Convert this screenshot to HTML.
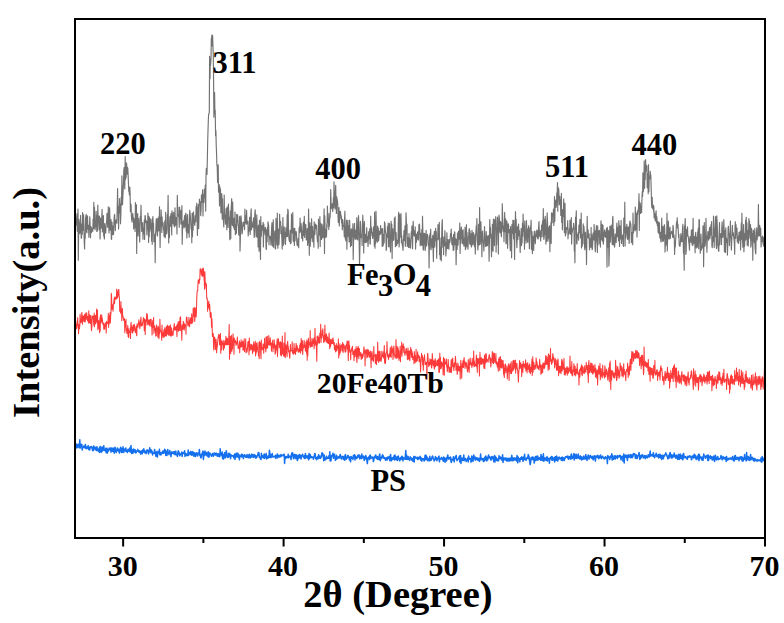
<!DOCTYPE html>
<html><head><meta charset="utf-8"><style>
html,body{margin:0;padding:0;background:#fff;width:784px;height:623px;overflow:hidden}
svg{display:block}
text{font-family:"Liberation Serif",serif;font-weight:bold;fill:#000}
</style></head><body>
<svg width="784" height="623" viewBox="0 0 784 623">
<rect width="784" height="623" fill="#fff"/>
<polyline fill="none" stroke="#727272" stroke-width="1.15" stroke-linejoin="round" points="75.0,213.0 75.3,236.1 75.7,217.9 76.0,223.2 76.3,224.8 76.6,219.2 77.0,213.8 77.3,231.3 77.6,228.8 78.0,209.0 78.3,260.2 78.6,234.2 79.0,219.4 79.3,233.8 79.6,222.0 79.9,225.6 80.3,232.9 80.6,215.4 80.9,231.2 81.3,238.3 81.6,237.7 81.9,223.8 82.3,234.1 82.6,212.5 82.9,225.1 83.2,230.3 83.6,214.9 83.9,225.8 84.2,241.3 84.6,249.0 84.9,233.2 85.2,238.6 85.6,218.3 85.9,216.1 86.2,214.3 86.5,231.1 86.9,232.9 87.2,220.8 87.5,215.9 87.9,228.6 88.2,229.1 88.5,225.2 88.9,237.3 89.2,225.5 89.5,225.7 89.8,216.7 90.2,227.4 90.5,237.8 90.8,226.7 91.2,226.7 91.5,232.4 91.8,228.5 92.2,230.6 92.5,230.6 92.8,231.3 93.1,219.1 93.5,228.5 93.8,202.4 94.1,228.1 94.5,207.3 94.8,225.1 95.1,229.8 95.5,222.1 95.8,226.4 96.1,211.4 96.4,218.1 96.8,231.4 97.1,215.5 97.4,231.0 97.8,205.1 98.1,217.5 98.4,215.9 98.8,225.3 99.1,229.8 99.4,216.0 99.7,223.6 100.1,239.0 100.4,222.3 100.7,218.0 101.1,228.3 101.4,223.0 101.7,218.9 102.1,209.4 102.4,231.9 102.7,219.9 103.0,224.8 103.4,215.6 103.7,235.9 104.0,235.6 104.4,239.0 104.7,223.6 105.0,228.6 105.4,232.1 105.7,233.2 106.0,227.1 106.3,223.8 106.7,221.2 107.0,213.3 107.3,215.9 107.7,227.2 108.0,221.9 108.3,206.8 108.7,222.5 109.0,233.0 109.3,221.4 109.6,207.7 110.0,222.5 110.3,230.2 110.6,225.1 111.0,219.5 111.3,239.0 111.6,239.3 112.0,222.0 112.3,234.6 112.6,225.9 112.9,229.1 113.3,234.6 113.6,233.9 113.9,222.5 114.3,215.9 114.6,214.3 114.9,220.7 115.3,230.6 115.6,222.9 115.9,220.4 116.2,221.7 116.6,219.4 116.9,223.3 117.2,208.4 117.6,188.5 117.9,213.0 118.2,206.1 118.6,229.0 118.9,212.8 119.2,210.9 119.5,198.6 119.9,213.0 120.2,203.7 120.5,223.8 120.9,212.9 121.2,197.0 121.5,205.1 121.9,175.8 122.2,186.8 122.5,204.7 122.8,197.9 123.2,189.7 123.5,184.8 123.8,169.8 124.2,167.3 124.5,178.1 124.8,188.9 125.2,156.6 125.5,179.5 125.8,174.7 126.1,177.7 126.5,162.8 126.8,167.1 127.1,174.1 127.5,167.3 127.8,168.4 128.1,174.4 128.5,184.5 128.8,191.5 129.1,191.1 129.4,194.9 129.8,187.0 130.1,193.3 130.4,211.6 130.8,203.7 131.1,205.5 131.4,216.1 131.8,220.4 132.1,222.2 132.4,216.1 132.7,213.4 133.1,217.5 133.4,217.5 133.7,228.9 134.1,220.2 134.4,223.9 134.7,218.7 135.1,231.5 135.4,202.6 135.7,224.0 136.0,227.7 136.4,204.7 136.7,253.4 137.0,220.1 137.4,221.2 137.7,213.6 138.0,236.0 138.4,226.7 138.7,218.6 139.0,225.8 139.3,230.0 139.7,242.1 140.0,226.3 140.3,216.3 140.7,220.0 141.0,205.2 141.3,218.8 141.7,231.5 142.0,229.3 142.3,224.5 142.6,222.6 143.0,239.3 143.3,228.2 143.6,233.7 144.0,229.3 144.3,220.2 144.6,239.5 145.0,215.5 145.3,215.9 145.6,222.6 145.9,220.1 146.3,221.6 146.6,221.3 146.9,235.0 147.3,227.0 147.6,229.6 147.9,213.0 148.3,219.4 148.6,242.5 148.9,216.3 149.2,236.8 149.6,217.9 149.9,231.1 150.2,219.5 150.6,228.4 150.9,219.0 151.2,224.6 151.6,241.1 151.9,223.5 152.2,244.3 152.5,220.0 152.9,216.6 153.2,227.4 153.5,223.2 153.9,241.8 154.2,234.1 154.5,236.8 154.9,235.9 155.2,262.7 155.5,233.4 155.8,231.1 156.2,219.4 156.5,218.7 156.8,228.0 157.2,235.0 157.5,236.0 157.8,218.3 158.2,230.9 158.5,228.0 158.8,216.7 159.1,230.7 159.5,206.7 159.8,230.0 160.1,247.4 160.5,217.4 160.8,226.3 161.1,209.8 161.5,219.6 161.8,232.5 162.1,217.0 162.4,225.7 162.8,222.9 163.1,222.7 163.4,228.7 163.8,230.0 164.1,236.4 164.4,233.0 164.8,220.9 165.1,237.9 165.4,236.5 165.7,212.3 166.1,231.4 166.4,232.8 166.7,234.0 167.1,230.3 167.4,214.4 167.7,221.6 168.1,195.3 168.4,224.1 168.7,242.9 169.0,231.3 169.4,237.6 169.7,220.9 170.0,216.6 170.4,216.1 170.7,226.3 171.0,213.4 171.4,219.6 171.7,234.9 172.0,210.9 172.3,213.6 172.7,220.4 173.0,223.8 173.3,223.4 173.7,212.4 174.0,225.9 174.3,222.9 174.7,226.9 175.0,207.8 175.3,225.5 175.6,225.1 176.0,217.3 176.3,220.9 176.6,217.7 177.0,234.0 177.3,195.3 177.6,209.5 178.0,207.1 178.3,216.0 178.6,215.6 178.9,217.7 179.3,227.3 179.6,207.0 179.9,213.7 180.3,219.0 180.6,210.6 180.9,224.1 181.3,223.7 181.6,214.8 181.9,205.6 182.2,244.3 182.6,224.9 182.9,224.5 183.2,221.9 183.6,220.8 183.9,228.0 184.2,220.8 184.6,215.5 184.9,227.0 185.2,221.5 185.5,214.3 185.9,213.2 186.2,231.0 186.5,226.4 186.9,238.0 187.2,216.5 187.5,214.6 187.9,224.5 188.2,232.9 188.5,226.2 188.8,224.7 189.2,237.2 189.5,214.6 189.8,210.2 190.2,214.5 190.5,218.1 190.8,224.0 191.2,229.5 191.5,224.2 191.8,242.8 192.1,213.4 192.5,236.7 192.8,213.2 193.1,230.2 193.5,211.9 193.8,222.7 194.1,220.0 194.5,223.8 194.8,225.5 195.1,215.7 195.4,218.0 195.8,221.7 196.1,206.7 196.4,211.2 196.8,203.2 197.1,216.8 197.4,235.4 197.8,222.2 198.1,207.9 198.4,204.5 198.7,228.5 199.1,209.5 199.4,199.1 199.7,203.5 200.1,202.5 200.4,201.9 200.7,215.6 201.1,209.5 201.4,195.0 201.7,202.1 202.0,195.7 202.4,193.7 202.7,189.7 203.0,216.0 203.4,194.7 203.7,202.1 204.0,202.4 204.4,189.2 204.7,197.5 205.0,191.3 205.3,185.1 205.7,211.1 206.0,177.6 206.3,168.4 206.7,170.7 207.0,174.5 207.3,161.3 207.7,141.5 208.0,130.4 208.3,121.3 208.6,114.4 209.0,113.6 209.3,112.4 209.6,56.3 210.0,78.7 210.3,59.2 210.6,65.2 211.0,59.3 211.3,38.7 211.6,37.8 211.9,35.0 212.3,45.9 212.6,35.4 212.9,43.9 213.3,56.2 213.6,82.2 213.9,117.2 214.3,92.9 214.6,92.5 214.9,113.9 215.2,110.1 215.6,135.8 215.9,130.5 216.2,144.6 216.6,154.5 216.9,165.4 217.2,165.9 217.6,182.6 217.9,177.4 218.2,164.8 218.5,192.1 218.9,184.9 219.2,184.6 219.5,206.0 219.9,186.9 220.2,198.2 220.5,189.1 220.9,212.9 221.2,199.7 221.5,207.7 221.8,193.6 222.2,219.1 222.5,198.7 222.8,216.7 223.2,219.4 223.5,221.3 223.8,227.0 224.2,195.1 224.5,216.3 224.8,214.7 225.1,217.7 225.5,224.1 225.8,216.1 226.1,208.6 226.5,215.2 226.8,229.7 227.1,206.8 227.5,218.0 227.8,209.2 228.1,227.5 228.4,204.1 228.8,215.6 229.1,217.8 229.4,220.1 229.8,239.7 230.1,233.0 230.4,211.0 230.8,238.6 231.1,210.0 231.4,204.4 231.7,198.7 232.1,223.8 232.4,225.6 232.7,202.1 233.1,225.1 233.4,219.2 233.7,227.7 234.1,218.4 234.4,229.6 234.7,226.8 235.0,212.0 235.4,234.7 235.7,224.2 236.0,228.7 236.4,233.4 236.7,214.3 237.0,222.0 237.4,215.8 237.7,214.8 238.0,225.3 238.3,226.0 238.7,234.6 239.0,235.2 239.3,223.2 239.7,216.3 240.0,251.1 240.3,242.1 240.7,222.2 241.0,215.8 241.3,220.3 241.6,226.5 242.0,233.9 242.3,232.6 242.6,228.1 243.0,222.4 243.3,226.0 243.6,222.0 244.0,225.9 244.3,224.1 244.6,229.6 244.9,209.0 245.3,222.3 245.6,222.9 245.9,215.8 246.3,224.2 246.6,210.4 246.9,220.2 247.3,223.6 247.6,224.0 247.9,221.4 248.2,236.0 248.6,228.3 248.9,231.5 249.2,228.9 249.6,217.2 249.9,219.6 250.2,234.5 250.6,224.4 250.9,212.3 251.2,208.8 251.5,229.7 251.9,221.6 252.2,227.5 252.5,223.5 252.9,224.9 253.2,227.0 253.5,217.9 253.9,228.6 254.2,237.4 254.5,235.0 254.8,214.2 255.2,209.7 255.5,218.0 255.8,227.4 256.2,237.0 256.5,232.6 256.8,214.9 257.2,230.5 257.5,237.1 257.8,226.5 258.1,246.9 258.5,225.1 258.8,240.9 259.1,251.2 259.5,220.2 259.8,228.6 260.1,236.5 260.5,259.4 260.8,216.6 261.1,237.0 261.4,234.8 261.8,226.4 262.1,225.5 262.4,228.4 262.8,230.5 263.1,222.3 263.4,246.9 263.8,224.0 264.1,229.9 264.4,228.0 264.7,230.3 265.1,234.7 265.4,227.4 265.7,232.0 266.1,248.8 266.4,249.5 266.7,229.8 267.1,241.8 267.4,227.4 267.7,236.0 268.0,221.8 268.4,224.2 268.7,226.6 269.0,244.7 269.4,236.0 269.7,238.8 270.0,236.3 270.4,237.2 270.7,240.2 271.0,245.2 271.3,235.4 271.7,226.2 272.0,222.5 272.3,244.5 272.7,246.2 273.0,238.9 273.3,219.9 273.7,247.6 274.0,236.8 274.3,233.4 274.6,234.2 275.0,230.8 275.3,249.1 275.6,248.5 276.0,218.4 276.3,232.4 276.6,236.6 277.0,244.9 277.3,213.1 277.6,242.0 277.9,248.3 278.3,229.0 278.6,233.5 278.9,244.6 279.3,237.1 279.6,214.2 279.9,223.7 280.3,224.9 280.6,221.5 280.9,233.7 281.2,226.0 281.6,234.0 281.9,239.8 282.2,249.1 282.6,235.5 282.9,217.6 283.2,245.6 283.6,232.6 283.9,243.6 284.2,226.9 284.5,237.9 284.9,232.4 285.2,233.3 285.5,244.5 285.9,227.9 286.2,234.9 286.5,236.6 286.9,230.1 287.2,214.5 287.5,236.4 287.8,209.0 288.2,211.3 288.5,229.4 288.8,237.1 289.2,240.8 289.5,240.5 289.8,241.9 290.2,230.2 290.5,243.7 290.8,231.0 291.1,242.9 291.5,214.0 291.8,225.0 292.1,224.6 292.5,233.1 292.8,212.5 293.1,240.1 293.5,241.6 293.8,239.8 294.1,228.6 294.4,245.5 294.8,228.2 295.1,240.7 295.4,232.4 295.8,232.7 296.1,231.5 296.4,232.6 296.8,242.3 297.1,245.1 297.4,245.0 297.7,245.8 298.1,238.4 298.4,239.1 298.7,247.7 299.1,228.7 299.4,227.0 299.7,232.8 300.1,218.0 300.4,230.3 300.7,231.8 301.0,223.4 301.4,227.3 301.7,238.2 302.0,230.2 302.4,232.8 302.7,241.0 303.0,226.8 303.4,222.2 303.7,231.6 304.0,235.6 304.3,216.3 304.7,237.5 305.0,229.2 305.3,225.7 305.7,224.4 306.0,230.2 306.3,240.0 306.7,236.3 307.0,238.7 307.3,228.5 307.6,245.4 308.0,242.6 308.3,231.4 308.6,209.0 309.0,232.1 309.3,255.2 309.6,231.0 310.0,222.7 310.3,246.2 310.6,226.2 310.9,235.7 311.3,238.0 311.6,218.7 311.9,232.5 312.3,241.6 312.6,226.5 312.9,237.0 313.3,231.1 313.6,240.1 313.9,247.2 314.2,221.8 314.6,228.7 314.9,234.6 315.2,225.7 315.6,224.0 315.9,228.1 316.2,228.7 316.6,225.4 316.9,233.8 317.2,237.9 317.5,241.8 317.9,236.7 318.2,248.3 318.5,219.0 318.9,229.7 319.2,232.3 319.5,235.1 319.9,216.6 320.2,246.6 320.5,222.7 320.8,232.5 321.2,236.5 321.5,239.4 321.8,224.0 322.2,225.1 322.5,232.7 322.8,237.9 323.2,237.0 323.5,228.4 323.8,222.7 324.1,208.8 324.5,253.5 324.8,215.8 325.1,233.2 325.5,229.1 325.8,237.4 326.1,233.9 326.5,236.6 326.8,223.5 327.1,227.0 327.4,206.0 327.8,222.3 328.1,213.2 328.4,218.7 328.8,229.6 329.1,218.8 329.4,226.1 329.8,213.7 330.1,217.6 330.4,209.3 330.7,189.6 331.1,204.0 331.4,206.4 331.7,208.7 332.1,206.0 332.4,203.5 332.7,211.5 333.1,207.5 333.4,197.6 333.7,207.5 334.0,181.8 334.4,196.1 334.7,196.8 335.0,209.0 335.4,193.2 335.7,185.3 336.0,199.9 336.4,213.5 336.7,196.7 337.0,199.3 337.3,200.0 337.7,203.4 338.0,215.5 338.3,222.5 338.7,211.1 339.0,207.6 339.3,225.9 339.7,212.3 340.0,213.4 340.3,211.2 340.6,212.9 341.0,219.0 341.3,215.7 341.6,223.0 342.0,221.3 342.3,229.8 342.6,219.3 343.0,221.8 343.3,226.5 343.6,225.8 343.9,226.9 344.3,236.8 344.6,218.1 344.9,211.2 345.3,239.1 345.6,226.9 345.9,241.0 346.3,229.0 346.6,220.1 346.9,249.3 347.2,234.2 347.6,227.1 347.9,220.4 348.2,236.3 348.6,225.9 348.9,235.2 349.2,242.0 349.6,220.2 349.9,229.2 350.2,236.6 350.5,246.8 350.9,240.7 351.2,228.8 351.5,245.4 351.9,229.8 352.2,231.6 352.5,236.3 352.9,223.7 353.2,259.6 353.5,243.5 353.8,235.2 354.2,228.5 354.5,223.4 354.8,236.6 355.2,239.5 355.5,230.1 355.8,231.9 356.2,238.4 356.5,233.1 356.8,217.7 357.1,239.4 357.5,235.8 357.8,240.0 358.1,222.8 358.5,215.5 358.8,223.0 359.1,236.4 359.5,264.2 359.8,254.0 360.1,238.3 360.4,221.3 360.8,230.9 361.1,237.7 361.4,237.6 361.8,234.7 362.1,245.4 362.4,226.1 362.8,215.2 363.1,226.3 363.4,223.8 363.7,253.0 364.1,232.2 364.4,221.5 364.7,239.1 365.1,242.5 365.4,234.3 365.7,236.6 366.1,242.6 366.4,238.2 366.7,227.7 367.0,238.8 367.4,241.7 367.7,236.7 368.0,246.5 368.4,238.7 368.7,231.7 369.0,232.4 369.4,239.0 369.7,228.9 370.0,243.6 370.3,244.1 370.7,216.2 371.0,233.0 371.3,227.1 371.7,228.1 372.0,235.7 372.3,232.1 372.7,238.4 373.0,236.3 373.3,236.7 373.6,226.8 374.0,230.5 374.3,246.1 374.6,212.2 375.0,248.3 375.3,228.7 375.6,243.6 376.0,211.2 376.3,227.4 376.6,240.8 376.9,234.8 377.3,242.2 377.6,226.0 377.9,228.7 378.3,227.9 378.6,241.0 378.9,237.5 379.3,232.5 379.6,231.3 379.9,231.1 380.2,234.4 380.6,225.5 380.9,233.2 381.2,231.6 381.6,229.1 381.9,228.9 382.2,246.5 382.6,228.5 382.9,237.4 383.2,245.7 383.5,240.3 383.9,234.2 384.2,242.8 384.5,221.8 384.9,223.5 385.2,228.4 385.5,232.3 385.9,233.5 386.2,250.5 386.5,248.9 386.8,234.1 387.2,236.7 387.5,226.7 387.8,237.3 388.2,223.1 388.5,246.7 388.8,230.3 389.2,239.6 389.5,223.6 389.8,246.9 390.1,240.2 390.5,251.9 390.8,235.7 391.1,221.2 391.5,228.4 391.8,224.4 392.1,258.4 392.5,230.0 392.8,228.9 393.1,240.6 393.4,239.4 393.8,239.8 394.1,231.2 394.4,218.4 394.8,224.0 395.1,216.8 395.4,246.7 395.8,243.6 396.1,232.6 396.4,241.2 396.7,245.7 397.1,241.4 397.4,240.5 397.7,243.5 398.1,237.2 398.4,216.9 398.7,212.2 399.1,246.9 399.4,241.1 399.7,214.4 400.0,237.5 400.4,228.5 400.7,231.3 401.0,213.6 401.4,242.6 401.7,235.3 402.0,243.0 402.4,245.4 402.7,247.1 403.0,250.2 403.3,240.3 403.7,237.8 404.0,230.5 404.3,240.5 404.7,233.9 405.0,225.8 405.3,246.3 405.7,242.1 406.0,212.8 406.3,219.8 406.6,234.0 407.0,224.3 407.3,246.5 407.6,237.4 408.0,240.8 408.3,244.0 408.6,247.4 409.0,233.5 409.3,245.1 409.6,238.0 409.9,247.7 410.3,240.6 410.6,248.1 410.9,240.5 411.3,231.7 411.6,237.7 411.9,226.0 412.3,238.5 412.6,248.8 412.9,227.0 413.2,221.4 413.6,235.0 413.9,231.3 414.2,235.7 414.6,230.6 414.9,236.4 415.2,226.9 415.6,249.1 415.9,233.7 416.2,240.1 416.5,242.2 416.9,234.3 417.2,239.6 417.5,232.1 417.9,231.8 418.2,233.7 418.5,239.9 418.9,224.7 419.2,227.9 419.5,224.0 419.8,230.9 420.2,245.8 420.5,235.6 420.8,233.3 421.2,238.2 421.5,245.2 421.8,229.7 422.2,245.1 422.5,216.2 422.8,228.7 423.1,249.3 423.5,250.1 423.8,238.4 424.1,233.2 424.5,244.1 424.8,233.5 425.1,250.6 425.5,247.5 425.8,244.1 426.1,230.3 426.4,246.1 426.8,235.6 427.1,235.9 427.4,234.4 427.8,237.1 428.1,242.6 428.4,245.7 428.8,245.8 429.1,268.0 429.4,235.8 429.7,248.9 430.1,233.3 430.4,237.4 430.7,229.2 431.1,249.8 431.4,241.7 431.7,241.8 432.1,238.6 432.4,247.6 432.7,235.4 433.0,246.1 433.4,261.6 433.7,238.7 434.0,234.6 434.4,231.3 434.7,247.1 435.0,240.7 435.4,233.7 435.7,228.4 436.0,240.4 436.3,231.5 436.7,258.3 437.0,238.5 437.3,238.6 437.7,239.3 438.0,224.5 438.3,227.6 438.7,237.0 439.0,239.9 439.3,222.4 439.6,254.7 440.0,247.2 440.3,259.5 440.6,257.7 441.0,238.0 441.3,261.0 441.6,241.0 442.0,223.6 442.3,219.7 442.6,240.4 442.9,247.3 443.3,240.4 443.6,254.7 443.9,237.1 444.3,244.5 444.6,246.0 444.9,230.7 445.3,242.2 445.6,242.6 445.9,256.0 446.2,249.8 446.6,247.9 446.9,232.7 447.2,245.6 447.6,248.5 447.9,239.5 448.2,245.6 448.6,245.7 448.9,249.2 449.2,239.6 449.5,243.0 449.9,242.2 450.2,239.4 450.5,233.5 450.9,235.9 451.2,229.0 451.5,237.0 451.9,244.5 452.2,243.9 452.5,245.0 452.8,237.5 453.2,250.4 453.5,234.5 453.8,250.0 454.2,241.9 454.5,231.9 454.8,232.2 455.2,244.7 455.5,238.6 455.8,240.6 456.1,264.7 456.5,243.1 456.8,239.2 457.1,249.4 457.5,233.0 457.8,236.6 458.1,245.1 458.5,231.1 458.8,237.9 459.1,236.6 459.4,239.1 459.8,223.0 460.1,253.4 460.4,237.4 460.8,242.9 461.1,229.3 461.4,227.0 461.8,238.4 462.1,235.4 462.4,243.8 462.7,230.3 463.1,229.8 463.4,241.2 463.7,244.3 464.1,246.3 464.4,238.1 464.7,240.6 465.1,227.2 465.4,249.7 465.7,248.2 466.0,248.0 466.4,224.7 466.7,246.1 467.0,232.3 467.4,246.2 467.7,245.3 468.0,249.1 468.4,237.0 468.7,235.7 469.0,230.0 469.3,228.5 469.7,243.7 470.0,230.9 470.3,244.5 470.7,235.5 471.0,233.9 471.3,247.1 471.7,246.2 472.0,230.4 472.3,237.4 472.6,238.8 473.0,244.6 473.3,232.6 473.6,235.4 474.0,237.6 474.3,244.9 474.6,246.7 475.0,234.4 475.3,254.1 475.6,242.7 475.9,232.2 476.3,225.7 476.6,234.8 476.9,218.6 477.3,240.6 477.6,243.8 477.9,250.0 478.3,243.3 478.6,224.4 478.9,236.6 479.2,245.0 479.6,207.6 479.9,231.9 480.2,244.3 480.6,239.4 480.9,221.7 481.2,234.6 481.6,239.0 481.9,256.7 482.2,232.7 482.5,231.0 482.9,240.8 483.2,241.5 483.5,243.5 483.9,250.9 484.2,237.9 484.5,226.6 484.9,238.6 485.2,238.3 485.5,246.4 485.8,245.2 486.2,231.6 486.5,244.4 486.8,246.2 487.2,235.9 487.5,245.5 487.8,238.7 488.2,238.6 488.5,235.6 488.8,243.6 489.1,261.2 489.5,238.3 489.8,219.5 490.1,234.0 490.5,227.6 490.8,238.3 491.1,234.1 491.5,256.8 491.8,241.2 492.1,250.5 492.4,224.3 492.8,232.1 493.1,251.3 493.4,219.0 493.8,234.3 494.1,219.5 494.4,245.7 494.8,220.0 495.1,229.2 495.4,230.0 495.7,216.7 496.1,252.1 496.4,228.4 496.7,244.4 497.1,224.0 497.4,217.1 497.7,231.2 498.1,230.7 498.4,253.9 498.7,219.5 499.0,215.0 499.4,218.2 499.7,230.6 500.0,232.7 500.4,221.3 500.7,224.6 501.0,232.2 501.4,236.8 501.7,222.3 502.0,228.5 502.3,203.7 502.7,219.1 503.0,231.2 503.3,227.5 503.7,226.1 504.0,241.7 504.3,225.5 504.7,212.4 505.0,231.6 505.3,230.3 505.6,218.8 506.0,243.7 506.3,243.7 506.6,220.9 507.0,221.9 507.3,228.9 507.6,248.3 508.0,225.2 508.3,223.9 508.6,225.3 508.9,232.7 509.3,232.6 509.6,229.5 509.9,241.5 510.3,250.7 510.6,226.5 510.9,240.6 511.3,234.1 511.6,257.7 511.9,224.5 512.2,229.3 512.6,233.3 512.9,220.2 513.2,230.8 513.6,238.8 513.9,220.4 514.2,235.0 514.6,259.4 514.9,228.0 515.2,225.5 515.5,211.5 515.9,232.4 516.2,219.4 516.5,238.3 516.9,247.7 517.2,238.4 517.5,226.9 517.9,239.4 518.2,229.8 518.5,224.1 518.8,229.6 519.2,236.0 519.5,230.8 519.8,238.5 520.2,252.5 520.5,239.4 520.8,245.4 521.2,228.4 521.5,245.6 521.8,237.2 522.1,242.9 522.5,223.1 522.8,236.3 523.1,214.0 523.5,231.2 523.8,227.0 524.1,225.7 524.5,249.3 524.8,221.1 525.1,233.1 525.4,233.1 525.8,238.9 526.1,243.1 526.4,220.6 526.8,229.7 527.1,228.3 527.4,240.4 527.8,242.5 528.1,230.9 528.4,229.7 528.7,225.7 529.1,237.6 529.4,248.8 529.7,237.7 530.1,228.4 530.4,227.2 530.7,228.3 531.1,220.2 531.4,249.3 531.7,235.5 532.0,231.5 532.4,253.6 532.7,236.3 533.0,247.1 533.4,236.7 533.7,250.5 534.0,235.4 534.4,231.1 534.7,237.8 535.0,240.4 535.3,243.6 535.7,235.9 536.0,232.0 536.3,231.0 536.7,236.8 537.0,229.9 537.3,231.2 537.7,238.7 538.0,239.0 538.3,238.3 538.6,227.5 539.0,221.5 539.3,236.2 539.6,235.5 540.0,230.4 540.3,235.4 540.6,240.9 541.0,231.8 541.3,236.9 541.6,225.0 541.9,230.2 542.3,226.1 542.6,220.7 542.9,236.8 543.3,208.5 543.6,232.0 543.9,239.4 544.3,236.0 544.6,219.1 544.9,234.4 545.2,216.4 545.6,224.4 545.9,244.1 546.2,232.9 546.6,241.4 546.9,221.6 547.2,212.9 547.6,224.0 547.9,241.1 548.2,237.6 548.5,238.4 548.9,227.4 549.2,227.3 549.5,225.8 549.9,251.7 550.2,226.8 550.5,240.4 550.9,222.7 551.2,243.5 551.5,212.8 551.8,216.7 552.2,222.8 552.5,213.4 552.8,213.4 553.2,214.0 553.5,209.1 553.8,225.4 554.2,220.0 554.5,196.5 554.8,221.5 555.1,204.6 555.5,202.9 555.8,200.1 556.1,207.4 556.5,204.6 556.8,192.8 557.1,197.2 557.5,182.5 557.8,211.2 558.1,187.9 558.4,187.9 558.8,189.9 559.1,198.2 559.4,204.6 559.8,196.4 560.1,201.3 560.4,199.8 560.8,215.5 561.1,208.2 561.4,193.4 561.7,222.5 562.1,214.4 562.4,229.8 562.7,209.6 563.1,212.2 563.4,216.4 563.7,198.9 564.1,217.4 564.4,232.6 564.7,229.0 565.0,203.2 565.4,236.0 565.7,228.9 566.0,233.6 566.4,227.6 566.7,229.5 567.0,229.0 567.4,229.4 567.7,220.5 568.0,238.8 568.3,232.1 568.7,233.9 569.0,233.8 569.3,228.5 569.7,230.9 570.0,220.1 570.3,234.0 570.7,234.3 571.0,230.0 571.3,217.5 571.6,243.9 572.0,231.0 572.3,232.4 572.6,230.0 573.0,227.7 573.3,229.4 573.6,223.4 574.0,228.0 574.3,250.9 574.6,243.4 574.9,262.8 575.3,228.0 575.6,217.1 575.9,221.7 576.3,210.8 576.6,242.9 576.9,244.1 577.3,234.5 577.6,236.9 577.9,236.9 578.2,232.7 578.6,240.1 578.9,225.1 579.2,227.6 579.6,232.6 579.9,219.3 580.2,225.4 580.6,237.9 580.9,237.2 581.2,213.1 581.5,248.0 581.9,237.6 582.2,246.2 582.5,234.2 582.9,243.8 583.2,223.9 583.5,233.4 583.9,226.2 584.2,231.0 584.5,245.7 584.8,249.8 585.2,236.2 585.5,232.2 585.8,247.8 586.2,240.2 586.5,264.6 586.8,241.9 587.2,216.4 587.5,237.7 587.8,233.9 588.1,229.8 588.5,237.9 588.8,237.3 589.1,233.8 589.5,249.8 589.8,240.1 590.1,240.3 590.5,238.2 590.8,247.3 591.1,227.3 591.4,247.3 591.8,234.9 592.1,249.7 592.4,249.1 592.8,241.2 593.1,233.0 593.4,239.3 593.8,240.0 594.1,224.4 594.4,234.2 594.7,230.9 595.1,248.7 595.4,251.6 595.7,230.7 596.1,232.4 596.4,225.6 596.7,241.0 597.1,243.9 597.4,252.4 597.7,225.9 598.0,245.0 598.4,235.7 598.7,230.8 599.0,232.1 599.4,230.4 599.7,243.7 600.0,237.0 600.4,247.1 600.7,232.4 601.0,220.9 601.3,228.4 601.7,239.9 602.0,224.3 602.3,230.5 602.7,241.5 603.0,225.2 603.3,244.1 603.7,239.8 604.0,231.9 604.3,236.5 604.6,229.8 605.0,233.5 605.3,232.3 605.6,237.3 606.0,236.1 606.3,230.5 606.6,228.4 607.0,267.1 607.3,227.4 607.6,235.5 607.9,247.1 608.3,245.3 608.6,230.6 608.9,266.1 609.3,251.9 609.6,234.1 609.9,226.2 610.3,242.2 610.6,235.2 610.9,232.6 611.2,225.1 611.6,231.6 611.9,238.1 612.2,244.4 612.6,218.9 612.9,216.3 613.2,244.9 613.6,229.3 613.9,242.5 614.2,237.4 614.5,247.1 614.9,244.2 615.2,234.0 615.5,234.9 615.9,239.0 616.2,242.5 616.5,230.7 616.9,223.0 617.2,236.8 617.5,235.5 617.8,234.4 618.2,227.1 618.5,240.8 618.8,220.7 619.2,231.2 619.5,246.4 619.8,225.7 620.2,238.7 620.5,238.9 620.8,238.6 621.1,220.4 621.5,243.4 621.8,235.8 622.1,238.7 622.5,237.0 622.8,234.8 623.1,244.6 623.5,246.4 623.8,218.0 624.1,227.2 624.4,232.3 624.8,202.2 625.1,246.1 625.4,226.8 625.8,238.2 626.1,235.1 626.4,230.1 626.8,224.4 627.1,227.8 627.4,233.6 627.7,239.4 628.1,229.8 628.4,226.9 628.7,230.2 629.1,243.4 629.4,236.5 629.7,222.3 630.1,221.0 630.4,225.8 630.7,223.6 631.0,227.6 631.4,242.7 631.7,236.7 632.0,232.5 632.4,236.3 632.7,244.7 633.0,213.1 633.4,232.9 633.7,226.9 634.0,229.4 634.3,228.2 634.7,224.3 635.0,230.9 635.3,207.0 635.7,227.2 636.0,229.7 636.3,214.7 636.7,213.4 637.0,237.0 637.3,211.7 637.6,214.8 638.0,210.0 638.3,209.9 638.6,207.7 639.0,193.7 639.3,230.4 639.6,201.9 640.0,209.4 640.3,203.4 640.6,213.5 640.9,205.7 641.3,207.2 641.6,212.5 641.9,200.2 642.3,191.5 642.6,196.4 642.9,172.8 643.3,191.8 643.6,188.2 643.9,182.9 644.2,160.9 644.6,188.3 644.9,169.7 645.2,179.6 645.6,159.5 645.9,171.0 646.2,166.6 646.6,165.3 646.9,166.5 647.2,187.8 647.5,173.0 647.9,177.2 648.2,193.7 648.5,164.7 648.9,191.7 649.2,177.3 649.5,177.0 649.9,178.7 650.2,171.2 650.5,175.8 650.8,174.9 651.2,188.7 651.5,202.0 651.8,207.5 652.2,197.3 652.5,208.3 652.8,208.6 653.2,205.1 653.5,211.1 653.8,206.0 654.1,217.7 654.5,212.9 654.8,216.8 655.1,220.3 655.5,220.9 655.8,214.9 656.1,210.8 656.5,223.0 656.8,216.6 657.1,221.3 657.4,225.9 657.8,221.6 658.1,232.3 658.4,232.6 658.8,222.2 659.1,233.7 659.4,222.9 659.8,237.8 660.1,237.4 660.4,232.4 660.7,240.5 661.1,242.0 661.4,237.3 661.7,218.1 662.1,235.2 662.4,237.3 662.7,241.4 663.1,226.3 663.4,240.9 663.7,238.1 664.0,238.7 664.4,224.7 664.7,228.1 665.0,252.1 665.4,242.8 665.7,235.1 666.0,245.2 666.4,238.2 666.7,232.5 667.0,213.3 667.3,251.0 667.7,235.1 668.0,238.4 668.3,221.1 668.7,228.7 669.0,239.1 669.3,233.1 669.7,230.4 670.0,227.2 670.3,238.5 670.6,233.7 671.0,234.0 671.3,232.7 671.6,231.4 672.0,232.2 672.3,231.8 672.6,237.3 673.0,225.4 673.3,227.8 673.6,237.6 673.9,234.8 674.3,238.6 674.6,254.4 674.9,243.7 675.3,247.0 675.6,241.0 675.9,236.4 676.3,225.9 676.6,221.7 676.9,225.5 677.2,217.7 677.6,228.1 677.9,224.1 678.2,229.4 678.6,237.5 678.9,234.3 679.2,245.3 679.6,245.5 679.9,246.5 680.2,245.2 680.5,240.2 680.9,233.5 681.2,241.8 681.5,235.8 681.9,235.1 682.2,241.5 682.5,228.7 682.9,224.2 683.2,240.9 683.5,253.2 683.8,247.7 684.2,270.2 684.5,226.2 684.8,232.7 685.2,218.6 685.5,230.9 685.8,254.4 686.2,252.0 686.5,229.6 686.8,235.6 687.1,231.3 687.5,226.9 687.8,236.3 688.1,235.6 688.5,239.2 688.8,242.2 689.1,244.4 689.5,250.1 689.8,237.8 690.1,236.7 690.4,238.5 690.8,242.2 691.1,237.4 691.4,230.1 691.8,234.1 692.1,244.8 692.4,229.7 692.8,245.4 693.1,218.3 693.4,243.7 693.7,243.5 694.1,236.7 694.4,238.3 694.7,236.5 695.1,252.8 695.4,234.8 695.7,232.3 696.1,241.7 696.4,247.9 696.7,241.3 697.0,237.2 697.4,247.2 697.7,232.0 698.0,231.8 698.4,227.9 698.7,248.7 699.0,219.6 699.4,219.8 699.7,240.5 700.0,241.9 700.3,253.2 700.7,242.0 701.0,234.1 701.3,250.1 701.7,247.4 702.0,248.2 702.3,247.4 702.7,242.6 703.0,225.9 703.3,229.3 703.6,266.7 704.0,238.6 704.3,222.5 704.6,238.6 705.0,246.3 705.3,243.8 705.6,238.2 706.0,218.3 706.3,238.6 706.6,236.0 706.9,252.2 707.3,238.0 707.6,237.5 707.9,231.5 708.3,236.9 708.6,240.2 708.9,233.5 709.3,230.3 709.6,227.3 709.9,238.8 710.2,234.7 710.6,235.0 710.9,224.8 711.2,230.8 711.6,221.6 711.9,245.7 712.2,247.6 712.6,241.0 712.9,236.6 713.2,241.5 713.5,216.0 713.9,226.2 714.2,247.4 714.5,228.6 714.9,236.6 715.2,231.7 715.5,216.6 715.9,231.6 716.2,244.3 716.5,248.4 716.8,215.8 717.2,223.9 717.5,232.3 717.8,245.6 718.2,247.5 718.5,250.6 718.8,251.4 719.2,233.4 719.5,222.6 719.8,244.8 720.1,234.8 720.5,237.2 720.8,233.8 721.1,233.5 721.5,244.6 721.8,228.2 722.1,221.8 722.5,230.7 722.8,237.5 723.1,234.0 723.4,235.3 723.8,219.5 724.1,228.9 724.4,251.8 724.8,234.9 725.1,230.5 725.4,252.4 725.8,227.8 726.1,242.5 726.4,237.9 726.7,239.5 727.1,244.8 727.4,255.1 727.7,246.8 728.1,228.6 728.4,226.3 728.7,233.0 729.1,234.2 729.4,245.6 729.7,235.9 730.0,237.3 730.4,221.0 730.7,235.1 731.0,240.0 731.4,250.0 731.7,242.1 732.0,236.2 732.4,225.3 732.7,235.3 733.0,235.3 733.3,232.9 733.7,236.6 734.0,239.5 734.3,241.4 734.7,254.3 735.0,226.8 735.3,221.7 735.7,238.5 736.0,224.6 736.3,233.3 736.6,234.4 737.0,228.1 737.3,241.8 737.6,240.6 738.0,236.2 738.3,243.5 738.6,242.5 739.0,232.4 739.3,240.1 739.6,236.2 739.9,235.0 740.3,231.1 740.6,250.0 740.9,239.5 741.3,222.9 741.6,239.3 741.9,213.2 742.3,237.4 742.6,241.7 742.9,247.3 743.2,237.8 743.6,224.5 743.9,251.8 744.2,244.1 744.6,246.3 744.9,233.1 745.2,240.7 745.6,220.2 745.9,239.4 746.2,217.3 746.5,226.6 746.9,222.8 747.2,245.2 747.5,243.3 747.9,230.4 748.2,246.1 748.5,236.2 748.9,218.6 749.2,229.5 749.5,220.9 749.8,236.3 750.2,238.8 750.5,224.6 750.8,247.2 751.2,244.9 751.5,228.2 751.8,240.8 752.2,235.2 752.5,233.6 752.8,260.3 753.1,230.1 753.5,230.6 753.8,235.7 754.1,241.2 754.5,243.0 754.8,228.4 755.1,248.3 755.5,252.3 755.8,253.9 756.1,238.2 756.4,232.4 756.8,227.7 757.1,239.9 757.4,236.4 757.8,236.6 758.1,231.8 758.4,204.5 758.8,234.8 759.1,235.9 759.4,234.3 759.7,225.3 760.1,235.2 760.4,236.4 760.7,228.0 761.1,246.9 761.4,237.6 761.7,239.1 762.1,241.4 762.4,236.0 762.7,237.5 763.0,242.9 763.4,244.9 763.7,246.1 764.0,237.0 764.4,245.3 764.7,248.6"/>
<polyline fill="none" stroke="#fc3a3a" stroke-width="1.05" stroke-linejoin="round" points="75.0,330.3 75.3,327.0 75.6,330.1 75.9,327.4 76.2,324.4 76.5,328.6 76.8,327.8 77.1,321.0 77.4,323.8 77.7,317.6 78.0,324.7 78.3,327.4 78.6,333.7 78.9,324.4 79.2,327.3 79.5,328.8 79.8,325.3 80.1,314.1 80.4,319.7 80.7,322.8 81.0,322.3 81.3,321.2 81.6,316.6 81.9,312.2 82.2,322.4 82.5,324.3 82.8,315.8 83.1,321.2 83.4,316.5 83.7,317.9 84.0,315.9 84.3,321.7 84.6,314.3 84.9,318.7 85.2,321.9 85.5,318.0 85.8,313.0 86.1,319.8 86.4,317.4 86.7,312.8 87.0,317.5 87.3,317.1 87.6,320.9 87.9,316.4 88.2,318.9 88.5,322.9 88.8,310.7 89.1,322.9 89.4,318.9 89.7,314.8 90.0,319.6 90.3,323.5 90.6,316.4 90.9,315.5 91.2,325.2 91.5,330.7 91.8,328.0 92.1,320.0 92.4,316.0 92.7,316.0 93.0,318.8 93.3,316.1 93.6,322.1 93.9,325.7 94.2,313.0 94.5,326.8 94.8,317.0 95.1,317.9 95.4,315.2 95.7,324.0 96.0,320.7 96.3,321.2 96.6,309.1 96.9,318.8 97.2,322.6 97.5,310.0 97.8,329.7 98.1,322.9 98.4,326.3 98.7,320.5 99.0,328.4 99.3,327.3 99.6,332.8 99.9,317.9 100.2,331.0 100.5,314.9 100.8,323.2 101.1,320.0 101.4,322.0 101.7,314.7 102.0,321.7 102.3,318.0 102.6,322.3 102.9,324.3 103.2,323.5 103.5,322.9 103.8,329.2 104.1,324.9 104.4,326.0 104.7,329.2 105.0,323.4 105.3,324.1 105.6,326.5 105.9,322.6 106.2,332.9 106.5,321.2 106.8,322.9 107.1,323.3 107.4,322.5 107.7,323.7 108.0,321.6 108.3,313.2 108.6,327.4 108.9,320.0 109.2,324.0 109.5,315.5 109.8,321.4 110.1,312.5 110.4,322.9 110.7,315.1 111.0,312.7 111.3,293.3 111.6,296.5 111.9,309.4 112.2,307.9 112.5,306.9 112.8,304.8 113.1,311.3 113.4,304.4 113.7,303.1 114.0,300.4 114.3,297.9 114.6,303.8 114.9,296.9 115.2,297.3 115.5,299.0 115.8,297.3 116.1,299.3 116.4,298.4 116.7,289.0 117.0,291.0 117.3,298.1 117.6,292.5 117.9,297.0 118.2,291.3 118.5,289.5 118.8,289.6 119.1,295.4 119.4,298.0 119.7,311.3 120.0,306.3 120.3,307.8 120.6,313.2 120.9,301.5 121.2,310.0 121.5,310.7 121.8,320.7 122.1,310.6 122.4,308.4 122.7,315.9 123.0,315.9 123.3,318.2 123.6,319.9 123.9,320.6 124.2,318.4 124.5,319.1 124.8,332.8 125.1,321.4 125.4,327.0 125.7,321.5 126.0,319.2 126.3,330.8 126.6,328.4 126.9,333.5 127.2,332.7 127.5,329.5 127.8,325.4 128.1,336.6 128.4,328.8 128.7,337.6 129.0,331.6 129.3,332.5 129.6,331.2 129.9,330.6 130.2,327.8 130.5,338.4 130.8,324.9 131.1,322.2 131.4,329.8 131.7,325.8 132.0,332.5 132.3,327.6 132.6,333.2 132.9,329.6 133.2,324.9 133.5,326.8 133.8,331.0 134.1,325.4 134.4,324.4 134.7,327.0 135.0,329.0 135.3,332.7 135.6,329.2 135.9,330.8 136.2,326.3 136.5,334.6 136.8,335.8 137.1,323.8 137.4,327.3 137.7,325.5 138.0,327.1 138.3,324.3 138.6,322.4 138.9,319.7 139.2,322.7 139.5,324.6 139.8,328.6 140.1,326.4 140.4,322.1 140.7,319.5 141.0,317.1 141.3,325.9 141.6,323.3 141.9,325.2 142.2,325.6 142.5,324.5 142.8,321.6 143.1,320.7 143.4,317.6 143.7,318.9 144.0,323.2 144.3,330.8 144.6,318.9 144.9,322.2 145.2,334.5 145.5,321.6 145.8,319.8 146.1,321.3 146.4,320.3 146.7,313.4 147.0,325.1 147.3,314.4 147.6,318.4 147.9,320.5 148.2,324.4 148.5,321.9 148.8,321.2 149.1,319.9 149.4,325.7 149.7,322.7 150.0,321.5 150.3,319.2 150.6,321.6 150.9,326.2 151.2,319.4 151.5,326.8 151.8,327.0 152.1,335.1 152.4,324.4 152.7,320.6 153.0,327.4 153.3,326.5 153.6,317.5 153.9,333.5 154.2,329.7 154.5,329.5 154.8,325.7 155.1,330.7 155.4,328.2 155.7,336.1 156.0,332.6 156.3,335.8 156.6,324.9 156.9,326.5 157.2,328.6 157.5,327.9 157.8,337.3 158.1,332.3 158.4,326.4 158.7,329.9 159.0,338.8 159.3,330.0 159.6,334.0 159.9,319.3 160.2,329.4 160.5,331.2 160.8,330.9 161.1,332.1 161.4,333.7 161.7,340.3 162.0,325.1 162.3,332.8 162.6,335.6 162.9,333.7 163.2,337.6 163.5,332.4 163.8,331.2 164.1,329.6 164.4,336.9 164.7,327.8 165.0,330.1 165.3,333.1 165.6,335.9 165.9,332.2 166.2,326.6 166.5,335.9 166.8,328.7 167.1,330.4 167.4,325.1 167.7,334.2 168.0,334.0 168.3,326.1 168.6,332.4 168.9,335.6 169.2,330.4 169.5,326.1 169.8,332.5 170.1,335.3 170.4,324.9 170.7,336.1 171.0,332.1 171.3,336.0 171.6,327.7 171.9,335.7 172.2,332.9 172.5,334.7 172.8,331.5 173.1,335.1 173.4,330.1 173.7,328.7 174.0,326.0 174.3,323.6 174.6,330.1 174.9,328.2 175.2,328.9 175.5,326.9 175.8,330.3 176.1,328.8 176.4,325.9 176.7,331.3 177.0,336.7 177.3,324.1 177.6,325.7 177.9,329.6 178.2,321.7 178.5,331.2 178.8,323.9 179.1,321.6 179.4,322.5 179.7,330.6 180.0,317.6 180.3,326.4 180.6,316.8 180.9,330.6 181.2,327.1 181.5,329.8 181.8,340.2 182.1,324.7 182.4,329.7 182.7,327.2 183.0,328.9 183.3,321.3 183.6,328.9 183.9,322.8 184.2,330.1 184.5,327.8 184.8,324.0 185.1,326.0 185.4,325.6 185.7,325.2 186.0,334.2 186.3,319.4 186.6,317.0 186.9,317.0 187.2,321.3 187.5,322.0 187.8,324.9 188.1,326.0 188.4,322.7 188.7,322.1 189.0,317.4 189.3,325.4 189.6,326.8 189.9,320.4 190.2,323.7 190.5,317.9 190.8,320.3 191.1,320.6 191.4,323.6 191.7,313.7 192.0,319.8 192.3,323.1 192.6,320.5 192.9,321.6 193.2,308.1 193.5,314.7 193.8,316.2 194.1,314.5 194.4,307.6 194.7,321.5 195.0,317.6 195.3,307.9 195.6,312.3 195.9,314.9 196.2,317.0 196.5,310.8 196.8,297.0 197.1,291.8 197.4,290.4 197.7,290.9 198.0,282.6 198.3,279.8 198.6,283.1 198.9,280.3 199.2,283.5 199.5,278.7 199.8,280.0 200.1,269.1 200.4,269.0 200.7,268.8 201.0,270.5 201.3,274.4 201.6,271.4 201.9,276.0 202.2,269.0 202.5,276.3 202.8,276.0 203.1,268.0 203.4,268.7 203.7,271.3 204.0,278.1 204.3,281.1 204.6,289.3 204.9,271.7 205.2,281.3 205.5,283.1 205.8,284.9 206.1,288.4 206.4,283.9 206.7,298.1 207.0,299.0 207.3,298.4 207.6,311.2 207.9,303.2 208.2,307.8 208.5,304.4 208.8,301.1 209.1,306.1 209.4,309.7 209.7,304.6 210.0,311.6 210.3,317.5 210.6,316.4 210.9,312.4 211.2,313.7 211.5,327.3 211.8,318.2 212.1,322.3 212.4,336.4 212.7,333.0 213.0,335.5 213.3,333.8 213.6,348.2 213.9,350.2 214.2,336.9 214.5,341.7 214.8,337.5 215.1,342.7 215.4,349.5 215.7,345.4 216.0,339.3 216.3,342.3 216.6,352.8 216.9,348.2 217.2,347.2 217.5,343.6 217.8,340.9 218.1,336.7 218.4,337.3 218.7,334.4 219.0,337.0 219.3,338.0 219.6,344.9 219.9,334.8 220.2,343.7 220.5,333.6 220.8,353.2 221.1,339.7 221.4,343.6 221.7,349.8 222.0,341.5 222.3,342.8 222.6,343.0 222.9,344.8 223.2,340.3 223.5,350.1 223.8,347.5 224.1,343.2 224.4,347.9 224.7,342.3 225.0,340.5 225.3,342.3 225.6,344.8 225.9,336.2 226.2,341.5 226.5,344.9 226.8,338.2 227.1,344.4 227.4,338.3 227.7,344.8 228.0,342.8 228.3,344.6 228.6,340.0 228.9,334.7 229.2,324.5 229.5,359.3 229.8,336.9 230.1,339.5 230.4,336.2 230.7,353.7 231.0,346.5 231.3,347.1 231.6,335.3 231.9,351.2 232.2,340.3 232.5,349.0 232.8,343.3 233.1,333.7 233.4,343.1 233.7,339.9 234.0,354.2 234.3,338.0 234.6,342.5 234.9,341.9 235.2,340.2 235.5,340.7 235.8,343.6 236.1,345.4 236.4,342.1 236.7,342.8 237.0,344.0 237.3,337.1 237.6,343.0 237.9,344.2 238.2,348.6 238.5,347.1 238.8,346.3 239.1,348.2 239.4,340.9 239.7,352.7 240.0,342.7 240.3,343.7 240.6,342.6 240.9,347.3 241.2,339.8 241.5,347.0 241.8,343.1 242.1,342.4 242.4,346.4 242.7,341.0 243.0,349.9 243.3,341.7 243.6,342.8 243.9,350.1 244.2,338.7 244.5,351.6 244.8,345.7 245.1,345.7 245.4,346.3 245.7,338.9 246.0,352.8 246.3,348.2 246.6,348.9 246.9,352.1 247.2,350.6 247.5,348.0 247.8,342.8 248.1,341.5 248.4,341.4 248.7,345.4 249.0,354.7 249.3,338.1 249.6,346.4 249.9,350.7 250.2,346.8 250.5,347.3 250.8,344.0 251.1,349.5 251.4,344.5 251.7,346.1 252.0,347.5 252.3,350.9 252.6,353.6 252.9,344.7 253.2,351.8 253.5,345.1 253.8,341.9 254.1,344.9 254.4,350.2 254.7,349.7 255.0,351.6 255.3,341.3 255.6,355.9 255.9,353.4 256.2,352.7 256.5,343.0 256.8,351.7 257.1,347.5 257.4,347.5 257.7,349.5 258.0,342.5 258.3,353.8 258.6,356.3 258.9,352.4 259.2,358.8 259.5,341.4 259.8,347.2 260.1,346.9 260.4,342.9 260.7,353.7 261.0,358.7 261.3,339.9 261.6,349.9 261.9,347.6 262.2,347.8 262.5,347.4 262.8,349.7 263.1,343.9 263.4,344.7 263.7,353.3 264.0,346.1 264.3,345.9 264.6,338.3 264.9,347.6 265.2,348.1 265.5,346.5 265.8,351.9 266.1,336.7 266.4,348.7 266.7,337.9 267.0,340.3 267.3,336.2 267.6,348.1 267.9,344.0 268.2,342.6 268.5,344.6 268.8,335.5 269.1,341.8 269.4,345.2 269.7,341.9 270.0,344.1 270.3,337.7 270.6,345.1 270.9,343.2 271.2,345.4 271.5,351.1 271.8,344.9 272.1,342.0 272.4,346.3 272.7,340.0 273.0,351.7 273.3,344.8 273.6,344.9 273.9,348.1 274.2,339.7 274.5,345.0 274.8,344.1 275.1,354.2 275.4,351.3 275.7,353.0 276.0,345.3 276.3,346.1 276.6,350.0 276.9,342.7 277.2,338.7 277.5,356.6 277.8,347.9 278.1,348.0 278.4,338.8 278.7,342.6 279.0,344.2 279.3,343.3 279.6,347.7 279.9,342.6 280.2,341.6 280.5,354.9 280.8,349.8 281.1,342.5 281.4,356.0 281.7,349.6 282.0,348.9 282.3,336.1 282.6,354.0 282.9,348.6 283.2,353.3 283.5,355.5 283.8,343.0 284.1,356.6 284.4,352.4 284.7,349.5 285.0,332.6 285.3,357.7 285.6,350.9 285.9,352.4 286.2,344.9 286.5,352.6 286.8,354.2 287.1,356.7 287.4,343.7 287.7,341.4 288.0,348.1 288.3,346.6 288.6,352.0 288.9,350.3 289.2,352.4 289.5,356.5 289.8,358.3 290.1,351.4 290.4,344.5 290.7,351.2 291.0,350.3 291.3,350.8 291.6,350.5 291.9,351.0 292.2,341.8 292.5,353.3 292.8,353.0 293.1,352.3 293.4,350.3 293.7,354.5 294.0,343.5 294.3,350.1 294.6,352.9 294.9,348.4 295.2,349.4 295.5,354.4 295.8,349.3 296.1,343.3 296.4,347.8 296.7,351.2 297.0,345.2 297.3,349.5 297.6,347.6 297.9,349.5 298.2,352.3 298.5,352.0 298.8,349.1 299.1,349.7 299.4,351.9 299.7,345.2 300.0,349.0 300.3,343.4 300.6,353.3 300.9,348.4 301.2,338.4 301.5,345.7 301.8,350.7 302.1,348.6 302.4,340.5 302.7,354.5 303.0,348.1 303.3,348.6 303.6,345.6 303.9,343.4 304.2,340.4 304.5,347.2 304.8,346.3 305.1,345.2 305.4,351.3 305.7,347.4 306.0,341.7 306.3,344.1 306.6,353.4 306.9,339.8 307.2,360.3 307.5,341.2 307.8,355.9 308.1,346.9 308.4,338.3 308.7,347.8 309.0,345.1 309.3,342.8 309.6,344.7 309.9,344.5 310.2,330.6 310.5,347.1 310.8,341.7 311.1,343.8 311.4,346.5 311.7,343.4 312.0,338.2 312.3,346.5 312.6,341.6 312.9,343.8 313.2,339.7 313.5,341.8 313.8,338.2 314.1,348.7 314.4,337.6 314.7,345.8 315.0,328.2 315.3,342.5 315.6,340.1 315.9,345.2 316.2,341.9 316.5,350.2 316.8,361.3 317.1,336.4 317.4,345.0 317.7,336.1 318.0,335.8 318.3,339.4 318.6,343.0 318.9,341.8 319.2,337.4 319.5,343.1 319.8,333.2 320.1,334.1 320.4,337.2 320.7,324.2 321.0,342.5 321.3,336.1 321.6,334.0 321.9,338.0 322.2,330.4 322.5,335.4 322.8,328.7 323.1,335.1 323.4,336.3 323.7,342.5 324.0,336.0 324.3,341.8 324.6,336.3 324.9,325.1 325.2,340.0 325.5,337.5 325.8,335.1 326.1,341.7 326.4,333.8 326.7,335.9 327.0,342.0 327.3,343.0 327.6,337.1 327.9,341.5 328.2,341.0 328.5,343.7 328.8,339.8 329.1,333.0 329.4,340.6 329.7,348.8 330.0,339.3 330.3,342.2 330.6,346.8 330.9,342.6 331.2,339.2 331.5,343.7 331.8,342.6 332.1,340.5 332.4,343.6 332.7,338.6 333.0,338.0 333.3,340.0 333.6,344.0 333.9,344.9 334.2,342.5 334.5,349.7 334.8,347.8 335.1,345.6 335.4,350.3 335.7,351.9 336.0,348.7 336.3,343.5 336.6,349.5 336.9,351.0 337.2,347.9 337.5,345.5 337.8,348.4 338.1,347.9 338.4,338.9 338.7,358.0 339.0,347.0 339.3,355.2 339.6,347.2 339.9,343.7 340.2,353.1 340.5,347.6 340.8,351.1 341.1,345.6 341.4,345.6 341.7,344.8 342.0,344.9 342.3,350.9 342.6,342.6 342.9,348.7 343.2,352.6 343.5,344.1 343.8,347.3 344.1,345.0 344.4,346.8 344.7,349.1 345.0,351.4 345.3,352.3 345.6,345.9 345.9,351.6 346.2,346.3 346.5,344.1 346.8,345.0 347.1,340.9 347.4,349.3 347.7,341.5 348.0,350.6 348.3,360.4 348.6,345.6 348.9,340.8 349.2,352.2 349.5,345.3 349.8,349.5 350.1,349.9 350.4,351.0 350.7,359.7 351.0,351.5 351.3,351.4 351.6,349.7 351.9,347.5 352.2,348.0 352.5,346.3 352.8,354.5 353.1,350.4 353.4,353.9 353.7,352.6 354.0,360.8 354.3,351.1 354.6,354.2 354.9,349.2 355.2,356.8 355.5,351.2 355.8,352.4 356.1,346.6 356.4,354.8 356.7,359.6 357.0,362.6 357.3,348.3 357.6,356.7 357.9,350.2 358.2,346.3 358.5,348.1 358.8,358.7 359.1,352.3 359.4,348.6 359.7,355.3 360.0,355.3 360.3,352.7 360.6,356.2 360.9,352.6 361.2,359.5 361.5,357.6 361.8,354.2 362.1,356.0 362.4,358.4 362.7,354.1 363.0,356.9 363.3,354.2 363.6,352.6 363.9,346.8 364.2,349.6 364.5,350.6 364.8,355.1 365.1,365.9 365.4,350.9 365.7,353.1 366.0,349.5 366.3,353.3 366.6,353.4 366.9,357.9 367.2,349.2 367.5,357.2 367.8,356.1 368.1,353.9 368.4,349.9 368.7,350.7 369.0,354.3 369.3,357.6 369.6,354.8 369.9,352.1 370.2,356.5 370.5,351.0 370.8,358.7 371.1,367.8 371.4,353.0 371.7,359.9 372.0,351.4 372.3,355.9 372.6,357.8 372.9,360.7 373.2,355.8 373.5,361.4 373.8,346.6 374.1,354.8 374.4,355.7 374.7,356.1 375.0,355.2 375.3,363.6 375.6,354.2 375.9,360.1 376.2,357.7 376.5,364.5 376.8,354.4 377.1,359.0 377.4,360.2 377.7,342.3 378.0,357.7 378.3,360.4 378.6,362.4 378.9,351.5 379.2,355.1 379.5,361.1 379.8,351.1 380.1,352.4 380.4,358.3 380.7,360.8 381.0,361.3 381.3,360.3 381.6,356.4 381.9,351.0 382.2,352.6 382.5,355.2 382.8,356.7 383.1,355.2 383.4,358.3 383.7,351.6 384.0,352.9 384.3,345.5 384.6,363.0 384.9,353.7 385.2,358.5 385.5,363.6 385.8,357.0 386.1,353.0 386.4,351.8 386.7,352.7 387.0,341.6 387.3,351.4 387.6,356.8 387.9,354.7 388.2,356.9 388.5,359.4 388.8,356.3 389.1,353.7 389.4,353.9 389.7,357.0 390.0,351.5 390.3,347.3 390.6,356.5 390.9,353.5 391.2,357.5 391.5,350.2 391.8,345.9 392.1,352.2 392.4,350.2 392.7,348.8 393.0,359.4 393.3,355.2 393.6,347.9 393.9,346.1 394.2,352.5 394.5,355.4 394.8,355.2 395.1,357.9 395.4,355.5 395.7,355.0 396.0,339.5 396.3,358.4 396.6,350.7 396.9,356.9 397.2,346.4 397.5,349.2 397.8,358.0 398.1,347.8 398.4,353.8 398.7,350.6 399.0,360.5 399.3,354.7 399.6,358.6 399.9,353.2 400.2,346.0 400.5,361.8 400.8,350.8 401.1,353.4 401.4,353.3 401.7,342.2 402.0,356.3 402.3,350.8 402.6,345.8 402.9,347.0 403.2,343.7 403.5,347.9 403.8,352.4 404.1,346.6 404.4,353.1 404.7,351.8 405.0,355.4 405.3,353.3 405.6,352.6 405.9,349.9 406.2,348.3 406.5,349.5 406.8,355.0 407.1,351.4 407.4,359.7 407.7,357.0 408.0,347.9 408.3,355.6 408.6,359.1 408.9,351.1 409.2,359.2 409.5,350.9 409.8,360.8 410.1,356.5 410.4,353.3 410.7,347.3 411.0,353.8 411.3,349.2 411.6,357.4 411.9,351.0 412.2,356.9 412.5,353.0 412.8,359.4 413.1,358.7 413.4,356.7 413.7,357.6 414.0,363.6 414.3,351.6 414.6,358.4 414.9,357.0 415.2,362.9 415.5,355.4 415.8,360.5 416.1,349.2 416.4,361.8 416.7,358.5 417.0,359.7 417.3,360.7 417.6,351.7 417.9,355.6 418.2,357.6 418.5,356.1 418.8,355.3 419.1,361.7 419.4,357.9 419.7,356.9 420.0,358.3 420.3,363.9 420.6,372.0 420.9,363.3 421.2,361.0 421.5,353.3 421.8,356.8 422.1,355.5 422.4,355.6 422.7,364.8 423.0,357.4 423.3,370.2 423.6,360.8 423.9,360.0 424.2,359.8 424.5,354.8 424.8,359.3 425.1,364.8 425.4,364.3 425.7,362.2 426.0,364.5 426.3,362.4 426.6,363.6 426.9,379.4 427.2,363.2 427.5,354.9 427.8,353.3 428.1,359.3 428.4,363.3 428.7,366.7 429.0,362.5 429.3,363.8 429.6,365.3 429.9,358.7 430.2,362.7 430.5,364.4 430.8,361.4 431.1,359.6 431.4,367.2 431.7,368.0 432.0,363.7 432.3,353.5 432.6,357.9 432.9,361.8 433.2,365.5 433.5,361.7 433.8,360.7 434.1,367.9 434.4,369.2 434.7,364.2 435.0,359.3 435.3,358.8 435.6,366.8 435.9,360.8 436.2,364.0 436.5,363.4 436.8,364.9 437.1,365.7 437.4,360.0 437.7,361.6 438.0,365.7 438.3,364.6 438.6,358.8 438.9,372.6 439.2,358.7 439.5,372.1 439.8,353.0 440.1,368.8 440.4,357.3 440.7,368.7 441.0,365.6 441.3,368.2 441.6,361.7 441.9,366.0 442.2,366.0 442.5,365.7 442.8,362.7 443.1,374.7 443.4,357.4 443.7,358.6 444.0,358.9 444.3,375.3 444.6,358.8 444.9,362.1 445.2,362.2 445.5,363.9 445.8,364.2 446.1,363.2 446.4,358.9 446.7,367.1 447.0,365.4 447.3,371.8 447.6,368.3 447.9,364.8 448.2,359.4 448.5,365.8 448.8,368.0 449.1,372.5 449.4,367.2 449.7,368.9 450.0,368.1 450.3,372.4 450.6,370.4 450.9,365.8 451.2,359.5 451.5,372.5 451.8,366.2 452.1,362.2 452.4,359.5 452.7,358.1 453.0,366.7 453.3,364.9 453.6,367.0 453.9,370.8 454.2,363.1 454.5,366.9 454.8,363.4 455.1,362.0 455.4,356.2 455.7,360.0 456.0,370.3 456.3,363.5 456.6,367.9 456.9,366.3 457.2,374.4 457.5,372.0 457.8,363.1 458.1,364.0 458.4,370.7 458.7,366.9 459.0,366.3 459.3,370.9 459.6,368.3 459.9,366.6 460.2,378.9 460.5,367.7 460.8,360.3 461.1,367.4 461.4,367.2 461.7,378.3 462.0,367.4 462.3,363.4 462.6,367.6 462.9,360.8 463.2,364.5 463.5,367.6 463.8,359.9 464.1,357.5 464.4,361.6 464.7,362.5 465.0,368.4 465.3,364.0 465.6,365.4 465.9,361.9 466.2,366.2 466.5,363.2 466.8,368.3 467.1,366.9 467.4,372.0 467.7,368.3 468.0,364.5 468.3,359.5 468.6,366.7 468.9,371.0 469.2,372.4 469.5,363.5 469.8,360.2 470.1,358.0 470.4,361.5 470.7,364.9 471.0,364.5 471.3,363.1 471.6,365.3 471.9,367.6 472.2,358.2 472.5,365.4 472.8,364.4 473.1,364.3 473.4,363.1 473.7,351.1 474.0,366.7 474.3,360.8 474.6,363.9 474.9,366.2 475.2,364.4 475.5,365.8 475.8,365.7 476.1,359.9 476.4,355.1 476.7,366.9 477.0,360.1 477.3,372.3 477.6,358.4 477.9,363.5 478.2,362.4 478.5,363.6 478.8,358.4 479.1,363.6 479.4,375.9 479.7,359.5 480.0,352.4 480.3,364.2 480.6,363.1 480.9,364.0 481.2,357.6 481.5,362.6 481.8,364.4 482.1,358.5 482.4,360.4 482.7,362.4 483.0,363.2 483.3,359.0 483.6,360.7 483.9,368.1 484.2,368.1 484.5,355.1 484.8,368.5 485.1,357.7 485.4,363.6 485.7,353.8 486.0,358.1 486.3,353.8 486.6,362.2 486.9,359.6 487.2,360.5 487.5,360.2 487.8,359.4 488.1,362.3 488.4,359.0 488.7,358.1 489.0,355.8 489.3,354.6 489.6,356.2 489.9,360.0 490.2,362.8 490.5,358.1 490.8,367.0 491.1,364.0 491.4,359.0 491.7,360.5 492.0,359.0 492.3,351.6 492.6,362.8 492.9,360.5 493.2,352.7 493.5,363.6 493.8,357.7 494.1,359.3 494.4,353.3 494.7,360.5 495.0,362.7 495.3,359.3 495.6,361.3 495.9,353.6 496.2,364.0 496.5,361.8 496.8,361.5 497.1,365.3 497.4,367.1 497.7,362.7 498.0,367.0 498.3,371.2 498.6,359.2 498.9,364.4 499.2,357.4 499.5,365.9 499.8,370.5 500.1,363.5 500.4,356.5 500.7,363.2 501.0,367.4 501.3,359.6 501.6,360.2 501.9,368.3 502.2,360.8 502.5,367.0 502.8,362.5 503.1,360.4 503.4,370.7 503.7,375.0 504.0,364.4 504.3,377.5 504.6,368.7 504.9,370.4 505.2,369.1 505.5,363.9 505.8,372.9 506.1,369.3 506.4,370.9 506.7,369.5 507.0,365.7 507.3,378.9 507.6,370.8 507.9,368.0 508.2,371.8 508.5,363.9 508.8,370.5 509.1,380.4 509.4,366.1 509.7,371.0 510.0,363.9 510.3,369.0 510.6,373.5 510.9,364.5 511.2,361.7 511.5,373.6 511.8,369.7 512.1,371.4 512.4,370.8 512.7,363.0 513.0,361.2 513.3,360.3 513.6,370.3 513.9,362.2 514.2,360.6 514.5,365.7 514.8,367.3 515.1,369.0 515.4,360.1 515.7,373.3 516.0,363.6 516.3,368.2 516.6,367.3 516.9,363.2 517.2,369.0 517.5,368.7 517.8,372.0 518.1,375.3 518.4,382.2 518.7,373.5 519.0,369.8 519.3,365.4 519.6,360.5 519.9,368.6 520.2,364.3 520.5,365.5 520.8,362.8 521.1,368.3 521.4,364.8 521.7,376.6 522.0,370.1 522.3,364.2 522.6,367.9 522.9,372.3 523.2,361.2 523.5,367.1 523.8,364.0 524.1,366.4 524.4,364.1 524.7,366.9 525.0,368.1 525.3,368.8 525.6,359.8 525.9,371.0 526.2,366.3 526.5,363.5 526.8,365.9 527.1,373.0 527.4,365.5 527.7,362.5 528.0,369.2 528.3,365.4 528.6,369.3 528.9,367.4 529.2,372.2 529.5,363.8 529.8,364.7 530.1,371.0 530.4,373.7 530.7,367.3 531.0,371.6 531.3,368.5 531.6,366.5 531.9,359.4 532.2,375.5 532.5,371.5 532.8,356.8 533.1,372.2 533.4,364.0 533.7,362.2 534.0,364.2 534.3,369.7 534.6,366.4 534.9,365.7 535.2,365.9 535.5,365.0 535.8,368.9 536.1,357.9 536.4,361.0 536.7,365.3 537.0,361.7 537.3,367.4 537.6,365.1 537.9,368.4 538.2,366.0 538.5,369.3 538.8,366.6 539.1,369.9 539.4,365.3 539.7,359.3 540.0,366.9 540.3,367.0 540.6,364.8 540.9,374.2 541.2,370.7 541.5,373.5 541.8,365.2 542.1,365.0 542.4,368.7 542.7,372.7 543.0,363.1 543.3,367.9 543.6,365.3 543.9,363.0 544.2,368.6 544.5,368.1 544.8,366.9 545.1,360.7 545.4,363.1 545.7,355.5 546.0,364.5 546.3,356.2 546.6,360.1 546.9,364.5 547.2,359.4 547.5,360.7 547.8,356.8 548.1,370.3 548.4,353.7 548.7,356.1 549.0,357.7 549.3,369.2 549.6,355.4 549.9,357.9 550.2,361.0 550.5,348.4 550.8,361.2 551.1,359.0 551.4,364.0 551.7,364.2 552.0,360.0 552.3,362.7 552.6,355.5 552.9,353.6 553.2,357.8 553.5,359.9 553.8,357.6 554.1,361.6 554.4,362.8 554.7,367.9 555.0,360.2 555.3,358.5 555.6,363.8 555.9,364.4 556.2,365.1 556.5,370.3 556.8,360.0 557.1,367.1 557.4,370.1 557.7,370.3 558.0,358.9 558.3,363.9 558.6,375.8 558.9,366.3 559.2,368.4 559.5,366.4 559.8,372.6 560.1,368.4 560.4,366.3 560.7,368.1 561.0,373.8 561.3,369.6 561.6,361.1 561.9,359.2 562.2,371.1 562.5,361.1 562.8,368.8 563.1,365.3 563.4,369.3 563.7,365.3 564.0,358.4 564.3,374.4 564.6,368.4 564.9,367.9 565.2,375.3 565.5,371.7 565.8,373.5 566.1,368.0 566.4,369.5 566.7,372.4 567.0,366.5 567.3,375.2 567.6,371.1 567.9,368.0 568.2,367.7 568.5,373.1 568.8,368.8 569.1,371.3 569.4,370.8 569.7,368.8 570.0,356.1 570.3,371.2 570.6,373.2 570.9,367.2 571.2,367.1 571.5,373.7 571.8,361.5 572.1,375.2 572.4,372.4 572.7,375.9 573.0,370.0 573.3,370.6 573.6,371.4 573.9,363.7 574.2,366.5 574.5,374.9 574.8,367.4 575.1,366.2 575.4,371.6 575.7,376.0 576.0,370.0 576.3,369.1 576.6,370.1 576.9,373.4 577.2,363.6 577.5,371.7 577.8,371.9 578.1,374.6 578.4,374.8 578.7,373.0 579.0,384.9 579.3,370.6 579.6,369.7 579.9,377.2 580.2,370.8 580.5,367.9 580.8,368.0 581.1,370.5 581.4,364.7 581.7,374.5 582.0,372.8 582.3,375.7 582.6,366.0 582.9,368.9 583.2,367.6 583.5,372.6 583.8,373.3 584.1,373.5 584.4,373.3 584.7,365.8 585.0,371.5 585.3,370.7 585.6,370.2 585.9,372.4 586.2,362.4 586.5,367.4 586.8,369.1 587.1,366.8 587.4,365.4 587.7,374.1 588.0,373.9 588.3,382.5 588.6,363.7 588.9,360.5 589.2,372.9 589.5,368.7 589.8,365.6 590.1,372.2 590.4,369.7 590.7,362.9 591.0,370.4 591.3,363.2 591.6,372.4 591.9,364.9 592.2,363.8 592.5,373.2 592.8,374.2 593.1,369.3 593.4,365.6 593.7,373.0 594.0,371.1 594.3,371.7 594.6,369.1 594.9,364.6 595.2,369.0 595.5,377.0 595.8,368.4 596.1,370.8 596.4,371.1 596.7,378.0 597.0,372.7 597.3,369.9 597.6,384.9 597.9,373.0 598.2,373.3 598.5,369.4 598.8,365.9 599.1,374.2 599.4,371.0 599.7,373.9 600.0,363.4 600.3,379.8 600.6,373.0 600.9,376.4 601.2,368.6 601.5,373.6 601.8,374.3 602.1,378.0 602.4,376.7 602.7,365.1 603.0,375.0 603.3,374.3 603.6,372.5 603.9,374.8 604.2,376.4 604.5,378.0 604.8,365.9 605.1,368.0 605.4,374.4 605.7,377.0 606.0,370.3 606.3,374.2 606.6,369.1 606.9,374.5 607.2,373.0 607.5,376.5 607.8,380.1 608.1,371.1 608.4,376.1 608.7,367.8 609.0,375.6 609.3,381.7 609.6,363.3 609.9,372.1 610.2,361.1 610.5,376.0 610.8,389.6 611.1,370.3 611.4,375.5 611.7,379.9 612.0,370.9 612.3,374.9 612.6,370.8 612.9,372.0 613.2,374.0 613.5,377.5 613.8,374.8 614.1,373.6 614.4,373.0 614.7,378.2 615.0,375.7 615.3,375.3 615.6,360.3 615.9,371.9 616.2,365.7 616.5,380.6 616.8,377.9 617.1,379.2 617.4,369.6 617.7,366.6 618.0,369.5 618.3,375.5 618.6,369.9 618.9,377.8 619.2,378.2 619.5,371.1 619.8,376.5 620.1,363.1 620.4,367.0 620.7,369.5 621.0,370.5 621.3,365.9 621.6,370.2 621.9,376.0 622.2,375.1 622.5,373.2 622.8,367.5 623.1,377.1 623.4,373.8 623.7,363.8 624.0,375.0 624.3,369.3 624.6,372.9 624.9,372.1 625.2,372.8 625.5,376.5 625.8,380.7 626.1,371.6 626.4,370.3 626.7,369.4 627.0,371.2 627.3,371.5 627.6,363.1 627.9,368.6 628.2,377.4 628.5,370.6 628.8,371.4 629.1,366.2 629.4,374.9 629.7,367.8 630.0,363.4 630.3,359.2 630.6,365.6 630.9,370.5 631.2,359.7 631.5,357.8 631.8,351.6 632.1,363.7 632.4,355.6 632.7,354.6 633.0,351.7 633.3,354.8 633.6,361.2 633.9,354.3 634.2,357.7 634.5,353.5 634.8,354.7 635.1,358.6 635.4,358.3 635.7,350.4 636.0,355.1 636.3,350.9 636.6,357.7 636.9,352.0 637.2,350.7 637.5,358.0 637.8,352.3 638.1,355.3 638.4,357.9 638.7,352.9 639.0,354.0 639.3,358.2 639.6,365.5 639.9,360.7 640.2,359.8 640.5,357.3 640.8,357.4 641.1,368.8 641.4,355.4 641.7,356.0 642.0,365.7 642.3,356.7 642.6,355.2 642.9,363.0 643.2,365.7 643.5,374.6 643.8,371.8 644.1,346.9 644.4,362.6 644.7,362.5 645.0,365.9 645.3,361.2 645.6,365.3 645.9,366.7 646.2,366.7 646.5,362.6 646.8,367.4 647.1,363.0 647.4,363.5 647.7,366.3 648.0,371.0 648.3,359.5 648.6,368.0 648.9,374.4 649.2,369.6 649.5,367.0 649.8,370.6 650.1,381.3 650.4,369.5 650.7,367.5 651.0,374.0 651.3,369.9 651.6,368.4 651.9,375.1 652.2,368.3 652.5,370.9 652.8,378.1 653.1,373.8 653.4,378.3 653.7,365.6 654.0,367.0 654.3,370.3 654.6,373.2 654.9,360.2 655.2,375.1 655.5,372.0 655.8,372.3 656.1,374.7 656.4,373.6 656.7,369.7 657.0,373.9 657.3,369.9 657.6,380.6 657.9,373.1 658.2,374.0 658.5,372.3 658.8,375.3 659.1,376.2 659.4,374.6 659.7,370.8 660.0,380.0 660.3,375.2 660.6,367.3 660.9,365.8 661.2,370.5 661.5,370.4 661.8,368.3 662.1,371.2 662.4,376.7 662.7,380.7 663.0,376.3 663.3,376.8 663.6,380.3 663.9,384.7 664.2,380.3 664.5,378.0 664.8,374.9 665.1,371.2 665.4,377.3 665.7,380.6 666.0,377.7 666.3,373.3 666.6,378.0 666.9,375.2 667.2,371.2 667.5,367.2 667.8,377.9 668.1,372.8 668.4,380.5 668.7,372.9 669.0,376.0 669.3,373.3 669.6,388.3 669.9,381.4 670.2,375.6 670.5,381.8 670.8,370.4 671.1,378.5 671.4,373.4 671.7,375.2 672.0,373.8 672.3,378.3 672.6,368.2 672.9,373.8 673.2,381.6 673.5,366.2 673.8,374.3 674.1,370.2 674.4,364.5 674.7,377.5 675.0,373.8 675.3,381.3 675.6,368.0 675.9,378.6 676.2,387.4 676.5,368.1 676.8,378.7 677.1,378.9 677.4,376.9 677.7,382.0 678.0,381.0 678.3,371.0 678.6,372.9 678.9,375.6 679.2,383.2 679.5,375.6 679.8,382.7 680.1,375.6 680.4,378.9 680.7,378.6 681.0,381.6 681.3,384.2 681.6,374.3 681.9,371.6 682.2,376.2 682.5,376.4 682.8,377.7 683.1,380.9 683.4,374.9 683.7,376.8 684.0,376.8 684.3,381.6 684.6,375.1 684.9,382.1 685.2,385.3 685.5,376.2 685.8,383.2 686.1,379.6 686.4,377.1 686.7,386.0 687.0,382.8 687.3,376.2 687.6,380.1 687.9,374.8 688.2,371.9 688.5,382.4 688.8,378.3 689.1,385.1 689.4,378.8 689.7,379.4 690.0,377.8 690.3,379.1 690.6,375.0 690.9,377.5 691.2,371.1 691.5,370.9 691.8,372.8 692.1,376.1 692.4,378.4 692.7,378.1 693.0,383.9 693.3,389.5 693.6,368.7 693.9,385.3 694.2,383.2 694.5,375.3 694.8,379.9 695.1,371.0 695.4,378.4 695.7,386.2 696.0,374.4 696.3,377.0 696.6,380.0 696.9,382.5 697.2,379.9 697.5,377.5 697.8,382.6 698.1,377.4 698.4,390.1 698.7,385.2 699.0,380.4 699.3,376.6 699.6,377.6 699.9,374.9 700.2,378.7 700.5,382.0 700.8,374.6 701.1,380.9 701.4,380.2 701.7,376.2 702.0,385.7 702.3,382.3 702.6,381.6 702.9,377.8 703.2,377.1 703.5,380.4 703.8,374.0 704.1,381.8 704.4,375.4 704.7,380.1 705.0,383.1 705.3,379.1 705.6,377.5 705.9,377.0 706.2,380.8 706.5,375.4 706.8,379.9 707.1,384.3 707.4,372.1 707.7,374.4 708.0,381.3 708.3,372.1 708.6,375.6 708.9,374.8 709.2,383.6 709.5,370.9 709.8,379.4 710.1,379.1 710.4,380.0 710.7,376.6 711.0,380.2 711.3,377.6 711.6,376.2 711.9,390.7 712.2,384.1 712.5,375.2 712.8,376.8 713.1,381.6 713.4,385.8 713.7,378.9 714.0,382.7 714.3,380.6 714.6,384.7 714.9,377.4 715.2,376.5 715.5,380.9 715.8,380.9 716.1,379.9 716.4,388.4 716.7,382.6 717.0,380.4 717.3,374.8 717.6,382.6 717.9,383.3 718.2,377.0 718.5,379.3 718.8,371.7 719.1,380.2 719.4,378.7 719.7,372.2 720.0,379.7 720.3,377.2 720.6,378.2 720.9,384.0 721.2,381.7 721.5,383.4 721.8,378.3 722.1,385.4 722.4,376.4 722.7,382.8 723.0,373.4 723.3,380.6 723.6,375.4 723.9,369.2 724.2,382.5 724.5,380.5 724.8,381.8 725.1,379.8 725.4,380.8 725.7,379.5 726.0,379.0 726.3,380.2 726.6,389.4 726.9,375.4 727.2,373.4 727.5,375.8 727.8,376.9 728.1,382.0 728.4,384.4 728.7,384.6 729.0,378.9 729.3,382.9 729.6,393.2 729.9,384.6 730.2,389.4 730.5,375.9 730.8,383.7 731.1,383.4 731.4,374.8 731.7,380.2 732.0,382.6 732.3,376.3 732.6,383.8 732.9,384.1 733.2,381.3 733.5,379.6 733.8,379.3 734.1,381.7 734.4,384.8 734.7,370.5 735.0,380.9 735.3,381.2 735.6,376.4 735.9,374.7 736.2,378.6 736.5,368.1 736.8,381.1 737.1,378.9 737.4,372.3 737.7,380.2 738.0,376.5 738.3,377.1 738.6,385.1 738.9,374.6 739.2,369.3 739.5,381.4 739.8,375.8 740.1,376.4 740.4,386.7 740.7,379.9 741.0,383.7 741.3,370.2 741.6,375.8 741.9,376.7 742.2,383.3 742.5,377.4 742.8,372.1 743.1,383.5 743.4,378.1 743.7,380.7 744.0,383.5 744.3,389.5 744.6,380.2 744.9,387.1 745.2,374.6 745.5,381.1 745.8,381.7 746.1,371.1 746.4,376.3 746.7,377.4 747.0,382.6 747.3,378.4 747.6,378.8 747.9,377.7 748.2,383.8 748.5,380.3 748.8,380.3 749.1,379.7 749.4,383.6 749.7,377.7 750.0,380.6 750.3,380.9 750.6,383.5 750.9,388.1 751.2,382.3 751.5,375.3 751.8,385.2 752.1,386.1 752.4,390.3 752.7,384.8 753.0,374.6 753.3,380.7 753.6,384.6 753.9,384.7 754.2,380.9 754.5,382.5 754.8,376.8 755.1,383.1 755.4,372.7 755.7,380.6 756.0,385.6 756.3,376.5 756.6,386.9 756.9,389.9 757.2,383.8 757.5,379.5 757.8,379.7 758.1,376.6 758.4,384.8 758.7,377.1 759.0,382.6 759.3,377.2 759.6,384.1 759.9,376.1 760.2,381.4 760.5,378.9 760.8,389.5 761.1,379.4 761.4,381.3 761.7,386.8 762.0,377.3 762.3,376.8 762.6,381.8 762.9,377.7 763.2,389.1 763.5,382.7 763.8,383.2 764.1,380.7 764.4,368.9 764.7,387.5 765.0,381.7"/>
<polyline fill="none" stroke="#1570ee" stroke-width="1.5" stroke-linejoin="round" points="75.0,445.2 75.4,449.5 75.8,447.0 76.2,443.9 76.6,446.1 77.0,447.8 77.4,444.5 77.8,446.9 78.2,446.0 78.6,444.2 79.0,447.3 79.4,447.8 79.8,439.7 80.2,448.1 80.6,446.0 81.0,446.4 81.4,444.3 81.8,444.3 82.2,449.9 82.6,448.3 83.0,446.9 83.4,447.4 83.8,446.0 84.2,447.2 84.6,446.0 85.0,447.9 85.4,444.4 85.8,447.9 86.2,448.8 86.6,447.1 87.0,448.0 87.4,448.2 87.8,446.9 88.2,445.6 88.6,449.6 89.0,448.2 89.4,447.5 89.8,450.0 90.2,446.7 90.6,447.3 91.0,447.0 91.4,446.5 91.8,448.0 92.2,447.3 92.6,450.6 93.0,447.3 93.4,450.4 93.8,446.0 94.2,448.0 94.6,448.6 95.0,447.2 95.4,449.7 95.8,447.7 96.2,447.6 96.6,450.6 97.0,446.8 97.4,449.8 97.8,450.6 98.2,450.2 98.6,451.2 99.0,448.3 99.4,452.4 99.8,448.2 100.2,446.4 100.6,448.8 101.0,452.2 101.4,447.6 101.8,452.0 102.2,446.9 102.6,450.7 103.0,450.1 103.4,448.6 103.8,445.7 104.2,450.4 104.6,450.4 105.0,450.2 105.4,451.0 105.8,448.2 106.2,452.7 106.6,451.0 107.0,448.3 107.4,453.1 107.8,449.7 108.2,450.4 108.6,451.0 109.0,448.3 109.4,448.3 109.8,449.5 110.2,448.0 110.6,449.5 111.0,452.1 111.4,448.1 111.8,450.0 112.2,449.0 112.6,451.3 113.0,448.1 113.4,448.2 113.8,449.7 114.2,453.2 114.6,448.5 115.0,447.3 115.4,448.5 115.8,451.2 116.2,452.6 116.6,450.0 117.0,450.5 117.4,447.9 117.8,450.8 118.2,449.9 118.6,449.2 119.0,451.8 119.4,453.1 119.8,448.9 120.2,450.7 120.6,447.2 121.0,448.7 121.4,452.5 121.8,448.6 122.2,448.9 122.6,452.2 123.0,446.8 123.4,449.4 123.8,452.4 124.2,449.8 124.6,449.1 125.0,448.9 125.4,450.9 125.8,447.9 126.2,451.4 126.6,450.4 127.0,450.7 127.4,452.5 127.8,450.0 128.2,449.2 128.6,450.8 129.0,451.2 129.4,450.5 129.8,448.1 130.2,451.9 130.6,448.1 131.0,445.5 131.4,452.4 131.8,453.4 132.2,450.5 132.6,449.7 133.0,453.3 133.4,448.9 133.8,451.0 134.2,449.5 134.6,452.1 135.0,451.7 135.4,449.9 135.8,453.0 136.2,452.4 136.6,451.3 137.0,450.8 137.4,451.1 137.8,449.3 138.2,451.0 138.6,451.0 139.0,452.3 139.4,451.1 139.8,450.8 140.2,451.9 140.6,454.1 141.0,452.4 141.4,451.3 141.8,450.9 142.2,453.8 142.6,451.6 143.0,449.7 143.4,452.0 143.8,448.8 144.2,450.8 144.6,452.7 145.0,451.5 145.4,451.2 145.8,453.0 146.2,453.7 146.6,450.3 147.0,450.0 147.4,450.7 147.8,450.1 148.2,452.7 148.6,453.9 149.0,451.8 149.4,450.3 149.8,447.7 150.2,451.7 150.6,449.9 151.0,452.8 151.4,450.0 151.8,451.2 152.2,451.5 152.6,454.9 153.0,453.4 153.4,452.9 153.8,452.7 154.2,453.3 154.6,449.4 155.0,453.7 155.4,451.9 155.8,456.3 156.2,453.8 156.6,454.3 157.0,451.3 157.4,457.1 157.8,453.4 158.2,453.0 158.6,451.6 159.0,453.1 159.4,449.2 159.8,454.7 160.2,453.4 160.6,452.6 161.0,454.9 161.4,453.5 161.8,453.5 162.2,451.9 162.6,453.3 163.0,450.9 163.4,451.0 163.8,453.3 164.2,451.9 164.6,449.3 165.0,452.6 165.4,450.0 165.8,455.4 166.2,451.5 166.6,451.6 167.0,455.5 167.4,450.7 167.8,449.5 168.2,453.1 168.6,452.6 169.0,454.7 169.4,453.0 169.8,450.6 170.2,453.3 170.6,452.8 171.0,456.6 171.4,453.7 171.8,451.8 172.2,452.2 172.6,453.3 173.0,452.2 173.4,453.7 173.8,453.8 174.2,451.5 174.6,453.8 175.0,454.7 175.4,451.5 175.8,451.2 176.2,454.7 176.6,454.4 177.0,455.0 177.4,456.4 177.8,453.4 178.2,450.8 178.6,454.0 179.0,451.9 179.4,454.3 179.8,455.8 180.2,453.9 180.6,454.6 181.0,453.8 181.4,454.2 181.8,452.0 182.2,456.5 182.6,452.8 183.0,453.2 183.4,452.7 183.8,453.5 184.2,452.8 184.6,450.7 185.0,456.4 185.4,455.0 185.8,453.5 186.2,453.9 186.6,455.6 187.0,455.4 187.4,454.9 187.8,455.5 188.2,450.0 188.6,455.4 189.0,453.7 189.4,452.9 189.8,452.5 190.2,454.2 190.6,451.4 191.0,454.7 191.4,452.9 191.8,455.3 192.2,451.4 192.6,454.8 193.0,453.5 193.4,452.3 193.8,456.2 194.2,456.0 194.6,452.8 195.0,453.8 195.4,456.6 195.8,454.5 196.2,453.3 196.6,452.8 197.0,453.1 197.4,455.9 197.8,455.8 198.2,453.7 198.6,452.7 199.0,453.1 199.4,449.4 199.8,455.5 200.2,454.4 200.6,457.2 201.0,458.0 201.4,456.6 201.8,453.8 202.2,453.9 202.6,452.3 203.0,451.1 203.4,459.5 203.8,454.9 204.2,452.0 204.6,455.6 205.0,451.1 205.4,453.7 205.8,454.7 206.2,452.6 206.6,453.7 207.0,455.8 207.4,452.9 207.8,456.4 208.2,451.7 208.6,453.9 209.0,457.3 209.4,453.0 209.8,453.0 210.2,454.5 210.6,453.9 211.0,455.1 211.4,456.3 211.8,455.6 212.2,455.0 212.6,453.4 213.0,455.1 213.4,456.2 213.8,453.3 214.2,454.1 214.6,453.0 215.0,454.8 215.4,455.1 215.8,454.0 216.2,453.1 216.6,453.6 217.0,456.0 217.4,454.0 217.8,456.3 218.2,454.0 218.6,453.7 219.0,456.2 219.4,453.7 219.8,456.8 220.2,448.8 220.6,454.9 221.0,454.2 221.4,453.8 221.8,455.5 222.2,451.9 222.6,458.6 223.0,454.4 223.4,459.1 223.8,456.5 224.2,455.5 224.6,452.7 225.0,458.0 225.4,456.3 225.8,457.2 226.2,450.8 226.6,452.4 227.0,454.7 227.4,456.2 227.8,457.4 228.2,457.3 228.6,453.9 229.0,453.2 229.4,456.6 229.8,453.7 230.2,455.3 230.6,458.7 231.0,454.7 231.4,456.0 231.8,455.9 232.2,455.5 232.6,456.1 233.0,456.3 233.4,455.6 233.8,458.0 234.2,458.0 234.6,453.9 235.0,459.5 235.4,455.8 235.8,455.3 236.2,453.3 236.6,456.9 237.0,455.5 237.4,453.3 237.8,453.2 238.2,457.5 238.6,455.1 239.0,454.5 239.4,459.8 239.8,456.3 240.2,456.8 240.6,455.9 241.0,455.7 241.4,454.2 241.8,456.9 242.2,456.2 242.6,454.4 243.0,455.6 243.4,458.6 243.8,456.3 244.2,455.9 244.6,454.8 245.0,454.9 245.4,456.7 245.8,457.2 246.2,456.2 246.6,457.3 247.0,454.5 247.4,455.2 247.8,456.4 248.2,457.8 248.6,455.1 249.0,457.4 249.4,454.2 249.8,457.7 250.2,458.0 250.6,455.4 251.0,456.5 251.4,457.1 251.8,454.1 252.2,454.8 252.6,455.3 253.0,456.9 253.4,457.5 253.8,454.5 254.2,454.8 254.6,457.0 255.0,455.0 255.4,455.7 255.8,458.2 256.2,456.1 256.6,457.7 257.0,456.2 257.4,455.9 257.8,454.9 258.2,452.5 258.6,455.5 259.0,453.1 259.4,457.4 259.8,457.3 260.2,457.3 260.6,459.1 261.0,459.5 261.4,453.3 261.8,455.9 262.2,457.4 262.6,455.7 263.0,455.9 263.4,457.9 263.8,457.0 264.2,453.9 264.6,458.5 265.0,454.8 265.4,456.5 265.8,457.1 266.2,453.5 266.6,458.9 267.0,457.2 267.4,456.8 267.8,458.3 268.2,455.8 268.6,457.3 269.0,457.2 269.4,450.2 269.8,452.9 270.2,457.7 270.6,454.5 271.0,457.1 271.4,455.9 271.8,457.4 272.2,453.4 272.6,456.4 273.0,456.2 273.4,457.0 273.8,456.6 274.2,456.4 274.6,456.8 275.0,457.0 275.4,455.3 275.8,458.5 276.2,456.3 276.6,455.3 277.0,457.3 277.4,453.9 277.8,458.0 278.2,455.3 278.6,456.3 279.0,456.3 279.4,457.0 279.8,455.2 280.2,455.5 280.6,456.8 281.0,454.5 281.4,456.1 281.8,456.0 282.2,455.6 282.6,455.1 283.0,454.9 283.4,455.5 283.8,454.2 284.2,454.4 284.6,463.4 285.0,456.2 285.4,458.6 285.8,456.7 286.2,458.1 286.6,456.4 287.0,457.8 287.4,456.6 287.8,456.7 288.2,454.3 288.6,457.8 289.0,456.0 289.4,456.2 289.8,456.9 290.2,456.7 290.6,456.3 291.0,459.6 291.4,455.0 291.8,453.1 292.2,455.8 292.6,452.8 293.0,456.0 293.4,458.3 293.8,458.8 294.2,454.6 294.6,457.0 295.0,454.5 295.4,456.9 295.8,458.5 296.2,454.7 296.6,458.8 297.0,457.1 297.4,460.6 297.8,455.5 298.2,455.1 298.6,458.5 299.0,457.9 299.4,457.4 299.8,454.4 300.2,456.8 300.6,455.7 301.0,459.0 301.4,457.6 301.8,455.5 302.2,455.3 302.6,454.3 303.0,455.7 303.4,456.6 303.8,457.3 304.2,458.3 304.6,455.4 305.0,458.6 305.4,453.5 305.8,456.5 306.2,457.7 306.6,455.9 307.0,457.1 307.4,458.0 307.8,455.8 308.2,457.3 308.6,459.8 309.0,453.6 309.4,458.5 309.8,456.5 310.2,454.4 310.6,457.3 311.0,457.8 311.4,456.5 311.8,457.3 312.2,457.5 312.6,456.9 313.0,457.0 313.4,459.2 313.8,458.0 314.2,456.8 314.6,453.9 315.0,453.5 315.4,455.9 315.8,458.6 316.2,458.3 316.6,459.7 317.0,457.6 317.4,457.5 317.8,456.4 318.2,458.8 318.6,454.7 319.0,457.9 319.4,456.7 319.8,456.0 320.2,458.4 320.6,458.0 321.0,457.5 321.4,456.4 321.8,453.1 322.2,454.8 322.6,452.9 323.0,454.8 323.4,457.4 323.8,460.8 324.2,455.1 324.6,458.9 325.0,459.9 325.4,458.7 325.8,459.6 326.2,457.0 326.6,456.2 327.0,457.4 327.4,458.5 327.8,457.7 328.2,457.7 328.6,458.3 329.0,455.6 329.4,458.3 329.8,451.8 330.2,461.1 330.6,459.3 331.0,460.8 331.4,455.6 331.8,456.1 332.2,455.4 332.6,454.7 333.0,453.3 333.4,458.3 333.8,456.7 334.2,456.8 334.6,454.2 335.0,457.3 335.4,460.3 335.8,457.7 336.2,459.5 336.6,455.2 337.0,458.8 337.4,457.0 337.8,457.3 338.2,457.7 338.6,456.7 339.0,458.2 339.4,457.0 339.8,456.1 340.2,454.4 340.6,455.3 341.0,458.5 341.4,458.9 341.8,457.0 342.2,456.9 342.6,456.3 343.0,457.5 343.4,459.4 343.8,458.1 344.2,456.3 344.6,460.3 345.0,458.4 345.4,454.4 345.8,456.5 346.2,459.2 346.6,457.9 347.0,457.2 347.4,457.9 347.8,455.4 348.2,455.4 348.6,457.1 349.0,457.5 349.4,459.9 349.8,457.1 350.2,458.4 350.6,461.8 351.0,456.4 351.4,456.9 351.8,457.7 352.2,458.3 352.6,458.0 353.0,459.5 353.4,455.4 353.8,455.2 354.2,457.2 354.6,454.7 355.0,459.9 355.4,456.1 355.8,456.4 356.2,458.3 356.6,458.4 357.0,458.3 357.4,457.3 357.8,455.3 358.2,457.1 358.6,456.3 359.0,454.7 359.4,456.9 359.8,458.9 360.2,455.9 360.6,456.2 361.0,456.2 361.4,458.6 361.8,454.1 362.2,458.1 362.6,457.6 363.0,457.2 363.4,455.9 363.8,456.8 364.2,460.5 364.6,457.8 365.0,456.8 365.4,458.8 365.8,455.4 366.2,459.2 366.6,457.3 367.0,461.5 367.4,463.6 367.8,458.4 368.2,458.2 368.6,456.9 369.0,458.4 369.4,459.6 369.8,455.3 370.2,455.1 370.6,458.4 371.0,456.6 371.4,458.1 371.8,457.7 372.2,457.8 372.6,457.0 373.0,458.6 373.4,461.6 373.8,460.2 374.2,457.0 374.6,457.8 375.0,457.7 375.4,455.2 375.8,455.1 376.2,457.4 376.6,458.4 377.0,458.9 377.4,456.6 377.8,459.5 378.2,457.4 378.6,456.9 379.0,459.2 379.4,454.9 379.8,454.0 380.2,460.8 380.6,457.6 381.0,459.0 381.4,457.5 381.8,456.6 382.2,455.9 382.6,454.8 383.0,458.1 383.4,456.1 383.8,457.6 384.2,458.2 384.6,457.7 385.0,457.9 385.4,460.2 385.8,458.3 386.2,458.2 386.6,457.6 387.0,460.1 387.4,459.9 387.8,456.9 388.2,458.5 388.6,457.7 389.0,457.2 389.4,456.4 389.8,460.8 390.2,458.8 390.6,454.5 391.0,459.6 391.4,460.8 391.8,458.2 392.2,457.9 392.6,458.5 393.0,459.5 393.4,457.1 393.8,458.7 394.2,455.6 394.6,459.9 395.0,455.0 395.4,457.4 395.8,458.7 396.2,459.7 396.6,456.9 397.0,457.0 397.4,460.5 397.8,457.1 398.2,455.9 398.6,457.3 399.0,459.2 399.4,460.1 399.8,460.9 400.2,458.8 400.6,457.5 401.0,458.9 401.4,459.4 401.8,456.3 402.2,456.5 402.6,458.2 403.0,460.8 403.4,457.4 403.8,458.3 404.2,458.3 404.6,458.8 405.0,459.3 405.4,455.5 405.8,450.6 406.2,459.5 406.6,454.9 407.0,458.8 407.4,459.0 407.8,459.5 408.2,456.6 408.6,458.9 409.0,459.4 409.4,459.5 409.8,460.4 410.2,456.8 410.6,457.5 411.0,457.9 411.4,458.3 411.8,460.0 412.2,460.7 412.6,458.6 413.0,461.2 413.4,459.4 413.8,456.6 414.2,462.0 414.6,456.4 415.0,456.4 415.4,457.8 415.8,457.7 416.2,458.3 416.6,458.5 417.0,457.2 417.4,457.3 417.8,459.6 418.2,459.3 418.6,458.1 419.0,457.2 419.4,458.5 419.8,456.9 420.2,456.4 420.6,460.1 421.0,459.6 421.4,458.0 421.8,461.1 422.2,458.4 422.6,459.6 423.0,459.3 423.4,458.8 423.8,458.8 424.2,461.0 424.6,460.1 425.0,455.6 425.4,459.6 425.8,455.1 426.2,455.9 426.6,459.3 427.0,456.9 427.4,460.6 427.8,458.1 428.2,459.6 428.6,459.1 429.0,460.9 429.4,460.8 429.8,456.3 430.2,458.6 430.6,459.3 431.0,460.4 431.4,459.6 431.8,458.0 432.2,456.5 432.6,456.1 433.0,457.2 433.4,459.0 433.8,459.0 434.2,461.0 434.6,459.6 435.0,460.0 435.4,456.5 435.8,459.1 436.2,457.9 436.6,457.8 437.0,460.7 437.4,458.7 437.8,458.6 438.2,458.8 438.6,456.6 439.0,456.1 439.4,461.8 439.8,458.9 440.2,458.8 440.6,459.1 441.0,458.0 441.4,458.3 441.8,457.4 442.2,459.3 442.6,458.5 443.0,460.5 443.4,461.3 443.8,457.1 444.2,459.9 444.6,458.1 445.0,462.3 445.4,459.1 445.8,460.4 446.2,458.0 446.6,460.9 447.0,457.6 447.4,456.8 447.8,454.9 448.2,458.7 448.6,458.2 449.0,459.1 449.4,457.4 449.8,458.8 450.2,458.8 450.6,457.1 451.0,461.9 451.4,462.4 451.8,459.3 452.2,459.7 452.6,459.9 453.0,460.0 453.4,456.8 453.8,459.4 454.2,461.8 454.6,458.6 455.0,458.5 455.4,456.5 455.8,457.9 456.2,455.4 456.6,458.9 457.0,460.7 457.4,459.5 457.8,459.2 458.2,459.1 458.6,459.1 459.0,457.3 459.4,455.9 459.8,462.0 460.2,459.8 460.6,455.5 461.0,463.5 461.4,458.3 461.8,460.6 462.2,458.8 462.6,458.0 463.0,460.4 463.4,458.5 463.8,455.0 464.2,460.7 464.6,458.9 465.0,458.9 465.4,458.3 465.8,459.7 466.2,461.5 466.6,460.7 467.0,459.5 467.4,459.2 467.8,457.9 468.2,461.9 468.6,455.9 469.0,457.4 469.4,458.8 469.8,459.3 470.2,459.5 470.6,458.4 471.0,462.1 471.4,461.1 471.8,456.0 472.2,457.5 472.6,456.9 473.0,461.4 473.4,458.4 473.8,454.9 474.2,458.6 474.6,457.0 475.0,459.2 475.4,460.2 475.8,457.3 476.2,459.5 476.6,459.6 477.0,458.0 477.4,459.9 477.8,458.1 478.2,460.2 478.6,458.9 479.0,458.4 479.4,461.4 479.8,460.7 480.2,458.7 480.6,454.0 481.0,459.6 481.4,458.3 481.8,459.8 482.2,459.1 482.6,458.7 483.0,458.6 483.4,461.4 483.8,461.5 484.2,461.2 484.6,457.3 485.0,458.2 485.4,459.4 485.8,455.9 486.2,460.8 486.6,457.3 487.0,460.7 487.4,458.2 487.8,459.7 488.2,456.2 488.6,454.9 489.0,457.8 489.4,456.8 489.8,456.8 490.2,458.2 490.6,459.4 491.0,460.3 491.4,457.4 491.8,456.5 492.2,458.7 492.6,457.1 493.0,456.9 493.4,458.1 493.8,461.8 494.2,459.3 494.6,455.4 495.0,462.0 495.4,456.7 495.8,459.1 496.2,457.5 496.6,460.4 497.0,459.5 497.4,460.8 497.8,459.2 498.2,458.6 498.6,460.8 499.0,455.7 499.4,456.8 499.8,456.5 500.2,458.6 500.6,458.1 501.0,457.5 501.4,460.0 501.8,459.7 502.2,458.1 502.6,454.8 503.0,462.4 503.4,459.4 503.8,457.9 504.2,459.1 504.6,459.5 505.0,457.9 505.4,460.1 505.8,459.1 506.2,458.1 506.6,460.8 507.0,458.2 507.4,461.1 507.8,459.2 508.2,458.5 508.6,460.9 509.0,458.3 509.4,459.8 509.8,461.1 510.2,458.3 510.6,458.0 511.0,460.2 511.4,460.5 511.8,455.3 512.2,459.8 512.6,460.8 513.0,458.0 513.4,460.5 513.8,458.4 514.2,457.8 514.6,458.4 515.0,460.1 515.4,458.3 515.8,458.0 516.2,458.9 516.6,461.1 517.0,455.5 517.4,460.6 517.8,462.8 518.2,457.1 518.6,458.7 519.0,459.5 519.4,458.9 519.8,461.8 520.2,459.0 520.6,457.8 521.0,458.1 521.4,459.3 521.8,456.7 522.2,457.7 522.6,457.8 523.0,461.4 523.4,459.7 523.8,456.8 524.2,459.5 524.6,454.3 525.0,458.6 525.4,459.6 525.8,459.2 526.2,460.2 526.6,459.0 527.0,457.5 527.4,458.1 527.8,458.2 528.2,454.6 528.6,458.7 529.0,456.0 529.4,459.6 529.8,462.3 530.2,464.6 530.6,462.9 531.0,457.9 531.4,457.5 531.8,459.6 532.2,457.1 532.6,459.6 533.0,457.1 533.4,459.1 533.8,457.9 534.2,463.1 534.6,460.4 535.0,459.9 535.4,456.5 535.8,460.5 536.2,457.8 536.6,456.3 537.0,459.0 537.4,460.2 537.8,456.0 538.2,459.7 538.6,458.1 539.0,458.1 539.4,459.3 539.8,457.9 540.2,457.3 540.6,460.2 541.0,454.4 541.4,460.0 541.8,456.3 542.2,460.4 542.6,456.5 543.0,460.6 543.4,453.8 543.8,461.3 544.2,458.6 544.6,458.0 545.0,457.9 545.4,460.0 545.8,458.1 546.2,460.3 546.6,458.6 547.0,456.6 547.4,461.1 547.8,458.1 548.2,458.8 548.6,458.7 549.0,458.6 549.4,463.2 549.8,458.9 550.2,457.9 550.6,458.7 551.0,457.8 551.4,456.5 551.8,460.1 552.2,456.7 552.6,460.3 553.0,458.4 553.4,459.6 553.8,458.2 554.2,457.6 554.6,462.0 555.0,457.4 555.4,456.7 555.8,458.9 556.2,460.5 556.6,456.1 557.0,457.3 557.4,459.6 557.8,461.0 558.2,459.1 558.6,457.5 559.0,458.5 559.4,457.1 559.8,458.9 560.2,458.4 560.6,458.6 561.0,457.8 561.4,460.3 561.8,458.5 562.2,457.0 562.6,460.5 563.0,458.5 563.4,457.7 563.8,457.9 564.2,460.5 564.6,458.3 565.0,458.6 565.4,456.8 565.8,457.5 566.2,457.2 566.6,456.7 567.0,456.4 567.4,457.5 567.8,456.0 568.2,459.0 568.6,459.2 569.0,456.6 569.4,458.6 569.8,456.8 570.2,458.4 570.6,459.2 571.0,455.2 571.4,453.9 571.8,458.6 572.2,458.6 572.6,457.8 573.0,456.9 573.4,455.9 573.8,453.7 574.2,460.0 574.6,454.2 575.0,458.1 575.4,457.1 575.8,458.2 576.2,454.3 576.6,456.4 577.0,458.4 577.4,455.9 577.8,457.8 578.2,454.0 578.6,457.9 579.0,458.4 579.4,457.6 579.8,459.0 580.2,455.8 580.6,456.8 581.0,457.0 581.4,459.9 581.8,456.7 582.2,457.6 582.6,459.5 583.0,457.9 583.4,459.0 583.8,455.9 584.2,459.1 584.6,457.5 585.0,458.8 585.4,458.6 585.8,454.4 586.2,459.3 586.6,456.8 587.0,460.4 587.4,457.0 587.8,457.8 588.2,455.0 588.6,455.6 589.0,459.1 589.4,456.1 589.8,457.9 590.2,457.3 590.6,455.6 591.0,457.0 591.4,457.1 591.8,458.3 592.2,456.7 592.6,456.4 593.0,459.6 593.4,459.7 593.8,457.5 594.2,455.8 594.6,458.0 595.0,455.9 595.4,461.1 595.8,457.3 596.2,456.4 596.6,456.9 597.0,455.9 597.4,457.3 597.8,455.3 598.2,457.7 598.6,458.7 599.0,458.1 599.4,455.9 599.8,457.9 600.2,456.7 600.6,455.0 601.0,457.1 601.4,458.6 601.8,457.6 602.2,456.7 602.6,456.2 603.0,457.1 603.4,457.9 603.8,457.5 604.2,459.0 604.6,458.5 605.0,458.7 605.4,456.7 605.8,457.9 606.2,457.2 606.6,458.1 607.0,457.8 607.4,463.6 607.8,455.4 608.2,457.7 608.6,456.4 609.0,457.8 609.4,457.5 609.8,459.5 610.2,456.9 610.6,456.0 611.0,457.6 611.4,457.5 611.8,453.7 612.2,460.0 612.6,455.6 613.0,459.5 613.4,459.0 613.8,459.2 614.2,457.3 614.6,455.7 615.0,455.8 615.4,458.9 615.8,456.2 616.2,457.6 616.6,456.4 617.0,456.1 617.4,458.4 617.8,455.5 618.2,456.6 618.6,456.4 619.0,457.1 619.4,456.7 619.8,455.2 620.2,456.2 620.6,455.9 621.0,459.9 621.4,458.0 621.8,456.6 622.2,457.0 622.6,456.3 623.0,461.1 623.4,456.4 623.8,454.1 624.2,463.0 624.6,455.4 625.0,455.7 625.4,455.1 625.8,457.2 626.2,455.5 626.6,455.3 627.0,458.1 627.4,460.4 627.8,457.0 628.2,454.8 628.6,457.3 629.0,455.5 629.4,456.9 629.8,456.9 630.2,454.6 630.6,457.8 631.0,456.4 631.4,456.3 631.8,454.7 632.2,457.8 632.6,455.2 633.0,456.5 633.4,453.6 633.8,454.3 634.2,454.3 634.6,453.7 635.0,455.6 635.4,458.3 635.8,457.9 636.2,454.8 636.6,454.9 637.0,458.6 637.4,458.2 637.8,456.2 638.2,455.5 638.6,455.5 639.0,452.4 639.4,455.1 639.8,459.4 640.2,458.6 640.6,455.6 641.0,458.1 641.4,457.0 641.8,455.1 642.2,454.6 642.6,455.1 643.0,456.3 643.4,458.1 643.8,456.4 644.2,456.0 644.6,455.6 645.0,457.9 645.4,458.6 645.8,456.3 646.2,455.6 646.6,456.4 647.0,457.5 647.4,457.8 647.8,457.5 648.2,454.7 648.6,455.8 649.0,455.3 649.4,456.9 649.8,454.2 650.2,451.1 650.6,456.1 651.0,455.2 651.4,455.2 651.8,455.7 652.2,454.5 652.6,456.1 653.0,454.2 653.4,452.8 653.8,456.8 654.2,455.4 654.6,457.7 655.0,456.4 655.4,454.8 655.8,455.1 656.2,453.2 656.6,455.9 657.0,456.8 657.4,455.9 657.8,456.3 658.2,454.5 658.6,457.9 659.0,456.9 659.4,457.5 659.8,454.2 660.2,455.7 660.6,454.8 661.0,458.5 661.4,455.7 661.8,459.5 662.2,456.7 662.6,455.2 663.0,458.0 663.4,458.8 663.8,455.8 664.2,455.2 664.6,456.0 665.0,454.3 665.4,454.5 665.8,452.8 666.2,454.6 666.6,454.2 667.0,456.4 667.4,456.6 667.8,458.8 668.2,456.8 668.6,455.5 669.0,458.2 669.4,455.2 669.8,453.0 670.2,452.6 670.6,455.6 671.0,457.6 671.4,457.9 671.8,454.8 672.2,458.0 672.6,456.9 673.0,457.3 673.4,454.8 673.8,456.0 674.2,453.1 674.6,456.6 675.0,455.4 675.4,457.5 675.8,458.2 676.2,455.1 676.6,457.9 677.0,458.2 677.4,456.1 677.8,459.5 678.2,455.4 678.6,454.4 679.0,456.6 679.4,459.3 679.8,457.5 680.2,454.0 680.6,455.9 681.0,458.6 681.4,455.6 681.8,456.5 682.2,455.2 682.6,459.8 683.0,459.4 683.4,453.4 683.8,454.1 684.2,457.7 684.6,457.5 685.0,456.9 685.4,457.1 685.8,456.5 686.2,458.4 686.6,458.3 687.0,459.0 687.4,459.3 687.8,456.2 688.2,456.4 688.6,456.7 689.0,457.3 689.4,456.1 689.8,455.8 690.2,456.8 690.6,456.5 691.0,456.8 691.4,459.7 691.8,459.2 692.2,455.9 692.6,457.4 693.0,456.8 693.4,455.9 693.8,458.1 694.2,454.2 694.6,457.5 695.0,456.7 695.4,455.3 695.8,458.0 696.2,459.6 696.6,457.6 697.0,457.9 697.4,455.9 697.8,457.9 698.2,459.5 698.6,454.2 699.0,460.7 699.4,454.5 699.8,458.7 700.2,456.4 700.6,457.7 701.0,457.3 701.4,457.4 701.8,459.9 702.2,456.9 702.6,457.7 703.0,460.3 703.4,457.2 703.8,454.1 704.2,455.9 704.6,456.6 705.0,456.1 705.4,458.4 705.8,457.6 706.2,456.3 706.6,456.6 707.0,455.3 707.4,456.7 707.8,460.5 708.2,454.9 708.6,460.5 709.0,457.5 709.4,456.9 709.8,456.7 710.2,455.7 710.6,458.6 711.0,457.1 711.4,456.6 711.8,457.5 712.2,460.1 712.6,456.9 713.0,457.4 713.4,459.8 713.8,456.1 714.2,459.0 714.6,461.5 715.0,457.7 715.4,455.2 715.8,459.3 716.2,457.3 716.6,459.9 717.0,458.6 717.4,458.3 717.8,456.5 718.2,459.7 718.6,458.6 719.0,458.6 719.4,458.7 719.8,459.1 720.2,458.3 720.6,457.9 721.0,455.5 721.4,457.1 721.8,457.5 722.2,459.8 722.6,459.7 723.0,456.6 723.4,457.3 723.8,457.2 724.2,458.6 724.6,458.6 725.0,459.1 725.4,457.2 725.8,457.7 726.2,461.5 726.6,456.5 727.0,460.5 727.4,459.5 727.8,459.8 728.2,458.5 728.6,458.4 729.0,459.6 729.4,458.2 729.8,458.3 730.2,458.0 730.6,459.1 731.0,458.3 731.4,458.0 731.8,459.4 732.2,458.8 732.6,456.5 733.0,458.4 733.4,460.7 733.8,459.2 734.2,460.9 734.6,455.9 735.0,459.2 735.4,455.6 735.8,459.5 736.2,457.6 736.6,458.3 737.0,459.3 737.4,457.3 737.8,457.5 738.2,457.6 738.6,459.8 739.0,460.8 739.4,457.5 739.8,457.2 740.2,458.8 740.6,456.8 741.0,456.6 741.4,459.5 741.8,457.3 742.2,461.1 742.6,457.3 743.0,461.0 743.4,460.6 743.8,458.3 744.2,459.1 744.6,454.6 745.0,459.2 745.4,458.9 745.8,457.6 746.2,460.9 746.6,452.5 747.0,460.0 747.4,459.0 747.8,459.2 748.2,456.6 748.6,459.9 749.0,457.5 749.4,459.2 749.8,460.4 750.2,457.6 750.6,454.6 751.0,459.5 751.4,459.6 751.8,458.6 752.2,457.3 752.6,457.6 753.0,459.3 753.4,460.6 753.8,458.4 754.2,461.2 754.6,458.6 755.0,460.2 755.4,459.0 755.8,459.3 756.2,460.8 756.6,460.4 757.0,461.2 757.4,461.1 757.8,459.5 758.2,460.6 758.6,460.2 759.0,460.2 759.4,460.7 759.8,459.9 760.2,459.8 760.6,461.0 761.0,458.1 761.4,461.9 761.8,462.3 762.2,456.4 762.6,460.8 763.0,458.5 763.4,458.3 763.8,460.6 764.2,458.2 764.6,460.0 765.0,458.6"/>
<rect x="75" y="19" width="690" height="519" fill="none" stroke="#000" stroke-width="2"/>
<g stroke="#000" stroke-width="2"><line x1="123.14" y1="538" x2="123.14" y2="546.5"/><line x1="283.60" y1="538" x2="283.60" y2="546.5"/><line x1="444.07" y1="538" x2="444.07" y2="546.5"/><line x1="604.53" y1="538" x2="604.53" y2="546.5"/><line x1="765.00" y1="538" x2="765.00" y2="546.5"/><line x1="203.37" y1="538" x2="203.37" y2="543"/><line x1="363.84" y1="538" x2="363.84" y2="543"/><line x1="524.30" y1="538" x2="524.30" y2="543"/><line x1="684.77" y1="538" x2="684.77" y2="543"/></g>
<g font-size="30.5"><text x="122.64" y="576.3" text-anchor="middle" font-size="30">30</text><text x="283.10" y="576.3" text-anchor="middle" font-size="30">40</text><text x="443.57" y="576.3" text-anchor="middle" font-size="30">50</text><text x="604.03" y="576.3" text-anchor="middle" font-size="30">60</text><text x="764.50" y="576.3" text-anchor="middle" font-size="30">70</text>
<text x="99.9" y="154.1">220</text>
<text x="212.5" y="73.2">311</text>
<text x="315.3" y="179">400</text>
<text x="545" y="177">511</text>
<text x="631.5" y="154.6">440</text>
<text x="347" y="285" letter-spacing="-0.6">Fe<tspan dy="10.5">3</tspan><tspan dy="-10.5">O</tspan><tspan dy="10.5">4</tspan></text>
<text x="316.8" y="393.4" font-size="29.7">20Fe40Tb</text>
<text x="370.4" y="490.7">PS</text>
</g>
<text font-size="38.5" x="303.3" y="607.2">2θ (Degree)</text>
<text font-size="38.5" transform="translate(38.8,418) rotate(-90)" x="0" y="0">Intensity(a.u.)</text>
</svg>
</body></html>
